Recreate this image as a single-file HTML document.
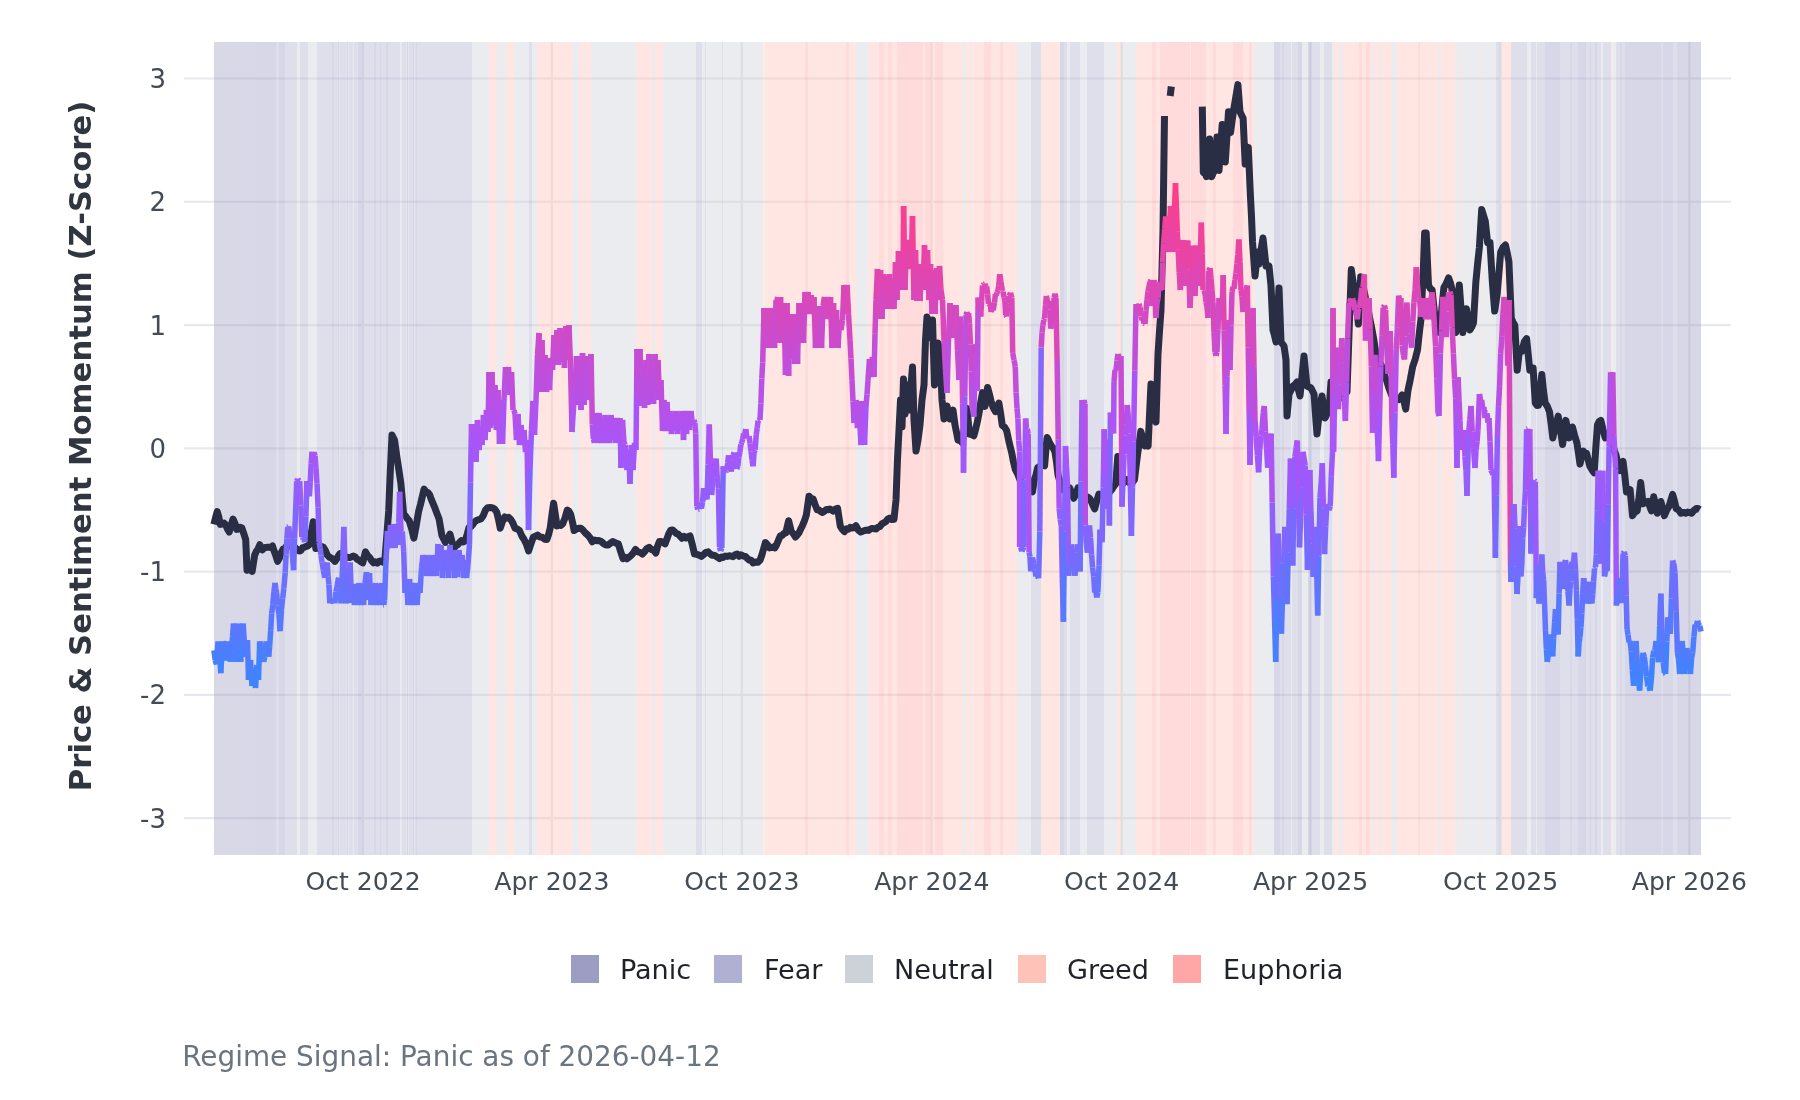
<!DOCTYPE html>
<html><head><meta charset="utf-8"><title>Regime Signal</title>
<style>html,body{margin:0;padding:0;background:#fff;width:1800px;height:1100px;overflow:hidden}svg{display:block;will-change:transform}</style>
</head><body>
<svg width="1800" height="1100" viewBox="0 0 1800 1100">
<rect x="0" y="0" width="1800" height="1100" fill="#ffffff"/>
<line x1="184" x2="1731" y1="78.49" y2="78.49" stroke="#e6e9ed" stroke-width="2.2"/>
<line x1="184" x2="1731" y1="201.76" y2="201.76" stroke="#e6e9ed" stroke-width="2.2"/>
<line x1="184" x2="1731" y1="325.03" y2="325.03" stroke="#e6e9ed" stroke-width="2.2"/>
<line x1="184" x2="1731" y1="448.30" y2="448.30" stroke="#e6e9ed" stroke-width="2.2"/>
<line x1="184" x2="1731" y1="571.57" y2="571.57" stroke="#e6e9ed" stroke-width="2.2"/>
<line x1="184" x2="1731" y1="694.84" y2="694.84" stroke="#e6e9ed" stroke-width="2.2"/>
<line x1="184" x2="1731" y1="818.11" y2="818.11" stroke="#e6e9ed" stroke-width="2.2"/>
<line x1="363.00" x2="363.00" y1="42" y2="855" stroke="#e6e9ed" stroke-width="2.2"/>
<line x1="551.89" x2="551.89" y1="42" y2="855" stroke="#e6e9ed" stroke-width="2.2"/>
<line x1="741.82" x2="741.82" y1="42" y2="855" stroke="#e6e9ed" stroke-width="2.2"/>
<line x1="931.75" x2="931.75" y1="42" y2="855" stroke="#e6e9ed" stroke-width="2.2"/>
<line x1="1121.68" x2="1121.68" y1="42" y2="855" stroke="#e6e9ed" stroke-width="2.2"/>
<line x1="1310.58" x2="1310.58" y1="42" y2="855" stroke="#e6e9ed" stroke-width="2.2"/>
<line x1="1500.51" x2="1500.51" y1="42" y2="855" stroke="#e6e9ed" stroke-width="2.2"/>
<line x1="1689.40" x2="1689.40" y1="42" y2="855" stroke="#e6e9ed" stroke-width="2.2"/>
<g opacity="0.4">
<rect x="214.0" y="42" width="62.00" height="813" fill="#9d9dc4"/>
<rect x="276.0" y="42" width="3.00" height="813" fill="#b0b0d2"/>
<rect x="279.0" y="42" width="6.00" height="813" fill="#9d9dc4"/>
<rect x="285.0" y="42" width="12.00" height="813" fill="#b0b0d2"/>
<rect x="297.0" y="42" width="3.00" height="813" fill="#cdd2d8"/>
<rect x="300.0" y="42" width="8.00" height="813" fill="#b0b0d2"/>
<rect x="308.0" y="42" width="9.00" height="813" fill="#cdd2d8"/>
<rect x="317.0" y="42" width="15.00" height="813" fill="#b0b0d2"/>
<rect x="332.0" y="42" width="2.00" height="813" fill="#9d9dc4"/>
<rect x="334.0" y="42" width="4.00" height="813" fill="#b0b0d2"/>
<rect x="338.0" y="42" width="1.50" height="813" fill="#9d9dc4"/>
<rect x="339.5" y="42" width="7.20" height="813" fill="#b0b0d2"/>
<rect x="346.7" y="42" width="1.70" height="813" fill="#9d9dc4"/>
<rect x="348.4" y="42" width="4.00" height="813" fill="#b0b0d2"/>
<rect x="352.4" y="42" width="1.00" height="813" fill="#9d9dc4"/>
<rect x="353.4" y="42" width="4.40" height="813" fill="#b0b0d2"/>
<rect x="357.8" y="42" width="4.20" height="813" fill="#9d9dc4"/>
<rect x="362.0" y="42" width="11.80" height="813" fill="#b0b0d2"/>
<rect x="373.8" y="42" width="2.20" height="813" fill="#9d9dc4"/>
<rect x="376.0" y="42" width="4.00" height="813" fill="#b0b0d2"/>
<rect x="380.0" y="42" width="1.00" height="813" fill="#9d9dc4"/>
<rect x="381.0" y="42" width="4.30" height="813" fill="#b0b0d2"/>
<rect x="385.3" y="42" width="2.70" height="813" fill="#9d9dc4"/>
<rect x="388.0" y="42" width="12.00" height="813" fill="#b0b0d2"/>
<rect x="400.0" y="42" width="1.30" height="813" fill="#cdd2d8"/>
<rect x="401.3" y="42" width="5.40" height="813" fill="#b0b0d2"/>
<rect x="406.7" y="42" width="1.70" height="813" fill="#9d9dc4"/>
<rect x="408.4" y="42" width="4.60" height="813" fill="#b0b0d2"/>
<rect x="413.0" y="42" width="1.70" height="813" fill="#9d9dc4"/>
<rect x="414.7" y="42" width="1.30" height="813" fill="#b0b0d2"/>
<rect x="416.0" y="42" width="1.00" height="813" fill="#9d9dc4"/>
<rect x="417.0" y="42" width="55.00" height="813" fill="#b0b0d2"/>
<rect x="472.0" y="42" width="17.00" height="813" fill="#cdd2d8"/>
<rect x="489.0" y="42" width="7.00" height="813" fill="#ffc2b8"/>
<rect x="496.0" y="42" width="2.00" height="813" fill="#cdd2d8"/>
<rect x="498.0" y="42" width="1.00" height="813" fill="#ffc2b8"/>
<rect x="499.0" y="42" width="7.00" height="813" fill="#cdd2d8"/>
<rect x="506.0" y="42" width="8.00" height="813" fill="#ffc2b8"/>
<rect x="514.0" y="42" width="15.00" height="813" fill="#cdd2d8"/>
<rect x="529.0" y="42" width="3.00" height="813" fill="#b0b0d2"/>
<rect x="532.0" y="42" width="5.00" height="813" fill="#cdd2d8"/>
<rect x="537.0" y="42" width="35.00" height="813" fill="#ffc2b8"/>
<rect x="572.0" y="42" width="7.00" height="813" fill="#cdd2d8"/>
<rect x="579.0" y="42" width="5.00" height="813" fill="#ffc2b8"/>
<rect x="584.0" y="42" width="1.00" height="813" fill="#cdd2d8"/>
<rect x="585.0" y="42" width="6.00" height="813" fill="#ffc2b8"/>
<rect x="591.0" y="42" width="45.00" height="813" fill="#cdd2d8"/>
<rect x="636.0" y="42" width="16.00" height="813" fill="#ffc2b8"/>
<rect x="652.0" y="42" width="3.00" height="813" fill="#cdd2d8"/>
<rect x="655.0" y="42" width="8.00" height="813" fill="#ffc2b8"/>
<rect x="663.0" y="42" width="33.00" height="813" fill="#cdd2d8"/>
<rect x="696.0" y="42" width="6.00" height="813" fill="#b0b0d2"/>
<rect x="702.0" y="42" width="3.00" height="813" fill="#cdd2d8"/>
<rect x="705.0" y="42" width="1.50" height="813" fill="#b0b0d2"/>
<rect x="706.5" y="42" width="15.50" height="813" fill="#cdd2d8"/>
<rect x="722.0" y="42" width="1.00" height="813" fill="#b0b0d2"/>
<rect x="723.0" y="42" width="39.00" height="813" fill="#cdd2d8"/>
<rect x="762.0" y="42" width="1.50" height="813" fill="#ffc2b8"/>
<rect x="763.5" y="42" width="1.00" height="813" fill="#cdd2d8"/>
<rect x="764.5" y="42" width="40.00" height="813" fill="#ffc2b8"/>
<rect x="804.5" y="42" width="4.00" height="813" fill="#ffa6a6"/>
<rect x="808.5" y="42" width="37.50" height="813" fill="#ffc2b8"/>
<rect x="846.0" y="42" width="3.00" height="813" fill="#ffa6a6"/>
<rect x="849.0" y="42" width="7.00" height="813" fill="#ffc2b8"/>
<rect x="856.0" y="42" width="12.00" height="813" fill="#cdd2d8"/>
<rect x="868.0" y="42" width="11.00" height="813" fill="#ffc2b8"/>
<rect x="879.0" y="42" width="5.00" height="813" fill="#ffa6a6"/>
<rect x="884.0" y="42" width="4.00" height="813" fill="#ffc2b8"/>
<rect x="888.0" y="42" width="4.00" height="813" fill="#ffa6a6"/>
<rect x="892.0" y="42" width="5.00" height="813" fill="#ffc2b8"/>
<rect x="897.0" y="42" width="26.00" height="813" fill="#ffa6a6"/>
<rect x="923.0" y="42" width="1.50" height="813" fill="#ffc2b8"/>
<rect x="924.5" y="42" width="6.50" height="813" fill="#ffa6a6"/>
<rect x="931.0" y="42" width="4.00" height="813" fill="#ffc2b8"/>
<rect x="935.0" y="42" width="8.00" height="813" fill="#ffa6a6"/>
<rect x="943.0" y="42" width="20.00" height="813" fill="#ffc2b8"/>
<rect x="963.0" y="42" width="3.00" height="813" fill="#cdd2d8"/>
<rect x="966.0" y="42" width="5.00" height="813" fill="#ffc2b8"/>
<rect x="971.0" y="42" width="1.50" height="813" fill="#cdd2d8"/>
<rect x="972.5" y="42" width="11.50" height="813" fill="#ffc2b8"/>
<rect x="984.0" y="42" width="7.00" height="813" fill="#ffa6a6"/>
<rect x="991.0" y="42" width="9.00" height="813" fill="#ffc2b8"/>
<rect x="1000.0" y="42" width="3.00" height="813" fill="#ffa6a6"/>
<rect x="1003.0" y="42" width="14.00" height="813" fill="#ffc2b8"/>
<rect x="1017.0" y="42" width="14.00" height="813" fill="#cdd2d8"/>
<rect x="1031.0" y="42" width="10.00" height="813" fill="#b0b0d2"/>
<rect x="1041.0" y="42" width="19.00" height="813" fill="#ffc2b8"/>
<rect x="1060.0" y="42" width="4.00" height="813" fill="#9d9dc4"/>
<rect x="1064.0" y="42" width="3.00" height="813" fill="#b0b0d2"/>
<rect x="1067.0" y="42" width="3.00" height="813" fill="#cdd2d8"/>
<rect x="1070.0" y="42" width="10.00" height="813" fill="#b0b0d2"/>
<rect x="1080.0" y="42" width="7.00" height="813" fill="#cdd2d8"/>
<rect x="1087.0" y="42" width="17.00" height="813" fill="#b0b0d2"/>
<rect x="1104.0" y="42" width="13.00" height="813" fill="#cdd2d8"/>
<rect x="1117.0" y="42" width="4.00" height="813" fill="#ffc2b8"/>
<rect x="1121.0" y="42" width="15.00" height="813" fill="#cdd2d8"/>
<rect x="1136.0" y="42" width="16.00" height="813" fill="#ffc2b8"/>
<rect x="1152.0" y="42" width="4.00" height="813" fill="#ffa6a6"/>
<rect x="1156.0" y="42" width="4.00" height="813" fill="#ffc2b8"/>
<rect x="1160.0" y="42" width="30.00" height="813" fill="#ffa6a6"/>
<rect x="1190.0" y="42" width="1.00" height="813" fill="#ffc2b8"/>
<rect x="1191.0" y="42" width="15.00" height="813" fill="#ffa6a6"/>
<rect x="1206.0" y="42" width="7.00" height="813" fill="#ffc2b8"/>
<rect x="1213.0" y="42" width="3.00" height="813" fill="#ffa6a6"/>
<rect x="1216.0" y="42" width="17.00" height="813" fill="#ffc2b8"/>
<rect x="1233.0" y="42" width="10.00" height="813" fill="#ffa6a6"/>
<rect x="1243.0" y="42" width="5.50" height="813" fill="#ffc2b8"/>
<rect x="1248.5" y="42" width="3.50" height="813" fill="#ffa6a6"/>
<rect x="1252.0" y="42" width="2.00" height="813" fill="#ffc2b8"/>
<rect x="1254.0" y="42" width="20.00" height="813" fill="#cdd2d8"/>
<rect x="1274.0" y="42" width="6.00" height="813" fill="#9d9dc4"/>
<rect x="1280.0" y="42" width="2.00" height="813" fill="#b0b0d2"/>
<rect x="1282.0" y="42" width="2.00" height="813" fill="#9d9dc4"/>
<rect x="1284.0" y="42" width="7.00" height="813" fill="#b0b0d2"/>
<rect x="1291.0" y="42" width="1.00" height="813" fill="#cdd2d8"/>
<rect x="1292.0" y="42" width="6.00" height="813" fill="#b0b0d2"/>
<rect x="1298.0" y="42" width="4.00" height="813" fill="#9d9dc4"/>
<rect x="1302.0" y="42" width="6.00" height="813" fill="#cdd2d8"/>
<rect x="1308.0" y="42" width="3.00" height="813" fill="#9d9dc4"/>
<rect x="1311.0" y="42" width="9.00" height="813" fill="#b0b0d2"/>
<rect x="1320.0" y="42" width="4.00" height="813" fill="#cdd2d8"/>
<rect x="1324.0" y="42" width="8.00" height="813" fill="#b0b0d2"/>
<rect x="1332.0" y="42" width="2.00" height="813" fill="#cdd2d8"/>
<rect x="1334.0" y="42" width="5.00" height="813" fill="#ffc2b8"/>
<rect x="1339.0" y="42" width="4.00" height="813" fill="#cdd2d8"/>
<rect x="1343.0" y="42" width="16.00" height="813" fill="#ffc2b8"/>
<rect x="1359.0" y="42" width="3.00" height="813" fill="#ffa6a6"/>
<rect x="1362.0" y="42" width="4.00" height="813" fill="#ffc2b8"/>
<rect x="1366.0" y="42" width="4.00" height="813" fill="#ffa6a6"/>
<rect x="1370.0" y="42" width="2.00" height="813" fill="#ffc2b8"/>
<rect x="1372.0" y="42" width="2.00" height="813" fill="#cdd2d8"/>
<rect x="1374.0" y="42" width="5.00" height="813" fill="#ffc2b8"/>
<rect x="1379.0" y="42" width="2.00" height="813" fill="#cdd2d8"/>
<rect x="1381.0" y="42" width="11.00" height="813" fill="#ffc2b8"/>
<rect x="1392.0" y="42" width="5.00" height="813" fill="#cdd2d8"/>
<rect x="1397.0" y="42" width="21.00" height="813" fill="#ffc2b8"/>
<rect x="1418.0" y="42" width="2.00" height="813" fill="#ffa6a6"/>
<rect x="1420.0" y="42" width="18.00" height="813" fill="#ffc2b8"/>
<rect x="1438.0" y="42" width="3.00" height="813" fill="#cdd2d8"/>
<rect x="1441.0" y="42" width="12.00" height="813" fill="#ffc2b8"/>
<rect x="1453.0" y="42" width="1.00" height="813" fill="#cdd2d8"/>
<rect x="1454.0" y="42" width="2.00" height="813" fill="#ffc2b8"/>
<rect x="1456.0" y="42" width="4.00" height="813" fill="#cdd2d8"/>
<rect x="1460.0" y="42" width="1.00" height="813" fill="#ffc2b8"/>
<rect x="1461.0" y="42" width="20.00" height="813" fill="#cdd2d8"/>
<rect x="1481.0" y="42" width="1.00" height="813" fill="#ffc2b8"/>
<rect x="1482.0" y="42" width="14.00" height="813" fill="#cdd2d8"/>
<rect x="1496.0" y="42" width="4.00" height="813" fill="#b0b0d2"/>
<rect x="1500.0" y="42" width="2.00" height="813" fill="#cdd2d8"/>
<rect x="1502.0" y="42" width="9.00" height="813" fill="#ffc2b8"/>
<rect x="1511.0" y="42" width="16.00" height="813" fill="#b0b0d2"/>
<rect x="1527.0" y="42" width="4.00" height="813" fill="#cdd2d8"/>
<rect x="1531.0" y="42" width="5.00" height="813" fill="#b0b0d2"/>
<rect x="1536.0" y="42" width="1.00" height="813" fill="#cdd2d8"/>
<rect x="1537.0" y="42" width="8.00" height="813" fill="#b0b0d2"/>
<rect x="1545.0" y="42" width="15.00" height="813" fill="#9d9dc4"/>
<rect x="1560.0" y="42" width="10.00" height="813" fill="#b0b0d2"/>
<rect x="1570.0" y="42" width="2.00" height="813" fill="#9d9dc4"/>
<rect x="1572.0" y="42" width="6.00" height="813" fill="#b0b0d2"/>
<rect x="1578.0" y="42" width="8.00" height="813" fill="#9d9dc4"/>
<rect x="1586.0" y="42" width="4.00" height="813" fill="#b0b0d2"/>
<rect x="1590.0" y="42" width="1.00" height="813" fill="#9d9dc4"/>
<rect x="1591.0" y="42" width="4.00" height="813" fill="#b0b0d2"/>
<rect x="1595.0" y="42" width="2.00" height="813" fill="#9d9dc4"/>
<rect x="1597.0" y="42" width="4.00" height="813" fill="#b0b0d2"/>
<rect x="1601.0" y="42" width="2.00" height="813" fill="#cdd2d8"/>
<rect x="1603.0" y="42" width="8.00" height="813" fill="#b0b0d2"/>
<rect x="1611.0" y="42" width="1.00" height="813" fill="#ffc2b8"/>
<rect x="1612.0" y="42" width="4.00" height="813" fill="#cdd2d8"/>
<rect x="1616.0" y="42" width="4.00" height="813" fill="#b0b0d2"/>
<rect x="1620.0" y="42" width="2.00" height="813" fill="#9d9dc4"/>
<rect x="1622.0" y="42" width="3.00" height="813" fill="#b0b0d2"/>
<rect x="1625.0" y="42" width="36.00" height="813" fill="#9d9dc4"/>
<rect x="1661.0" y="42" width="2.00" height="813" fill="#b0b0d2"/>
<rect x="1663.0" y="42" width="10.00" height="813" fill="#9d9dc4"/>
<rect x="1673.0" y="42" width="4.00" height="813" fill="#b0b0d2"/>
<rect x="1677.0" y="42" width="24.00" height="813" fill="#9d9dc4"/>
</g>
<g fill="none" stroke="#2a2e45" stroke-width="7" stroke-linejoin="round" stroke-linecap="butt">
<polyline points="213.9,524.4 215.6,517.5 217.2,511.6 218.8,517.1 220.3,524.4 222.2,524.1 224.0,523.0 225.7,524.9 227.5,529.1 229.2,532.0 231.1,525.2 233.0,519.0 234.9,523.1 236.8,529.4 238.5,529.0 240.2,527.3 241.9,528.0 243.8,533.6 245.7,539.6 247.0,570.2 248.7,569.5 250.4,569.9 252.1,571.4 254.7,554.9 256.4,551.3 258.1,548.9 259.8,544.7 262.3,549.8 264.0,548.0 265.7,547.4 267.4,547.3 269.1,547.2 270.8,547.6 272.5,546.0 274.2,551.3 275.9,555.9 277.6,561.3 279.5,558.0 281.4,552.3 283.1,549.0 284.8,549.0 286.5,546.0 288.6,545.9 290.8,545.9 292.9,547.3 295.0,547.5 297.1,549.3 299.2,551.0 300.9,550.6 302.6,547.7 304.3,547.3 306.0,546.6 307.7,545.9 309.4,544.7 311.3,532.9 313.2,521.8 315.8,548.5 317.7,548.3 319.6,546.8 321.5,546.5 323.4,547.3 325.3,550.3 327.2,554.9 329.1,557.0 331.0,557.9 333.0,559.2 334.9,561.3 336.6,559.0 338.3,556.0 340.0,553.6 342.5,555.0 345.0,557.4 347.7,557.3 349.5,557.6 351.4,557.0 353.2,556.0 355.0,556.7 356.8,558.9 358.6,560.0 360.6,561.5 362.7,562.8 365.5,551.9 367.6,555.6 369.6,557.3 371.6,560.6 373.6,562.8 375.4,561.8 377.3,563.1 379.1,561.4 380.9,560.9 382.8,562.1 384.6,562.8 386.6,538.2 388.7,510.9 390.0,478.2 392.0,435.0 394.5,440.0 396.7,455.7 398.9,470.0 400.9,483.6 403.7,515.0 405.5,515.9 407.3,518.6 409.1,520.5 411.5,528.2 413.9,538.2 416.3,525.0 418.7,511.0 420.5,504.4 422.3,496.6 424.1,489.1 425.9,491.9 427.8,492.3 429.6,494.6 431.4,499.6 433.2,503.9 435.0,508.2 437.1,513.9 439.1,519.1 441.9,535.5 443.6,538.8 445.3,542.3 447.6,539.1 450.0,534.1 452.1,542.1 454.1,547.8 455.9,545.9 457.8,544.6 459.6,542.3 461.4,540.7 463.3,542.0 465.1,541.0 467.1,534.5 469.1,527.3 470.9,526.7 472.8,524.5 474.6,521.8 476.7,520.3 478.8,519.6 480.9,519.0 483.2,515.7 485.4,510.2 487.7,507.7 490.0,507.6 492.3,507.7 494.6,509.1 496.8,512.3 498.5,519.3 500.2,528.2 502.5,521.4 504.8,516.8 506.7,518.2 508.6,517.3 510.5,519.0 512.8,522.9 515.0,528.2 517.2,529.1 519.5,530.5 521.8,536.0 524.1,539.5 526.4,544.1 528.6,550.9 530.9,544.0 533.2,537.3 535.5,536.3 537.7,535.0 540.0,537.1 542.3,537.3 544.5,539.2 546.8,539.5 548.5,534.8 550.2,528.2 551.9,515.1 553.6,503.2 555.3,514.3 557.0,525.9 558.9,524.8 560.8,525.4 562.7,523.6 565.0,518.0 567.3,510.0 569.0,511.3 570.7,514.5 572.4,521.7 574.1,530.5 576.4,529.0 578.6,528.3 580.9,528.2 583.2,530.4 585.4,533.0 587.7,535.0 590.0,537.8 592.3,541.8 594.6,540.1 596.8,540.7 599.1,540.5 601.4,541.7 603.6,543.7 605.9,545.0 608.2,545.0 610.4,543.2 612.7,541.6 614.6,542.4 616.5,543.4 618.4,543.9 620.7,551.7 623.0,558.6 624.9,557.1 626.7,558.9 628.6,557.5 630.9,555.6 633.2,553.1 635.5,549.5 637.8,551.8 640.0,552.3 642.3,554.1 644.6,551.6 646.8,548.5 649.1,547.3 651.4,549.5 653.6,550.0 655.9,553.0 657.6,546.2 659.3,541.6 661.2,541.6 663.1,542.3 665.0,543.9 666.9,538.9 668.8,533.6 670.7,530.2 672.6,530.0 674.5,531.6 676.4,533.6 678.3,534.1 680.1,536.3 682.0,538.2 684.0,536.4 686.0,538.0 688.0,536.8 690.0,535.9 692.2,544.1 694.5,554.1 696.8,554.2 699.1,555.2 701.4,556.4 703.7,554.5 705.9,552.4 708.2,551.8 710.1,553.8 712.0,555.3 713.9,555.2 715.8,556.2 717.6,557.4 719.5,558.6 721.4,557.0 723.2,557.5 725.2,556.1 727.2,556.4 729.3,555.8 731.3,556.1 733.2,556.7 735.1,554.7 737.1,554.0 739.0,556.2 740.9,554.7 743.2,556.1 745.4,556.5 747.7,558.8 749.5,560.3 751.3,560.3 753.1,562.9 755.4,562.1 757.7,562.3 760.0,560.2 761.8,555.2 763.6,548.9 765.4,542.5 767.5,544.6 769.5,547.9 771.3,547.6 773.1,547.0 774.9,547.9 776.7,544.5 778.6,539.9 780.4,535.7 782.2,535.5 784.0,533.4 785.8,532.9 788.6,520.7 791.3,531.6 793.3,533.6 795.4,537.0 797.2,535.1 799.0,532.9 800.8,528.9 802.6,525.3 804.5,520.6 806.3,515.2 809.0,496.2 811.0,498.4 813.1,498.9 815.2,505.0 817.2,509.8 819.0,510.0 820.8,511.6 822.6,512.5 824.4,511.2 826.3,509.5 828.1,509.8 829.9,509.0 831.7,510.1 833.5,511.1 835.5,509.1 837.6,508.4 840.3,526.1 842.3,529.4 844.4,531.6 846.4,528.8 848.3,529.3 850.2,527.4 852.1,528.0 854.0,527.5 855.9,525.6 858.3,530.0 860.7,532.0 862.7,531.2 864.7,530.5 866.6,530.1 868.6,530.4 870.5,529.0 872.4,528.4 874.3,528.8 876.2,528.9 878.1,527.2 880.0,526.5 881.9,523.9 883.9,522.8 885.8,521.6 887.7,519.2 889.8,518.1 891.9,519.6 894.0,519.2 896.0,500.0 897.5,459.0 899.0,430.0 900.5,400.0 902.0,427.0 903.5,379.0 905.0,414.0 907.0,385.0 909.0,410.0 911.0,385.0 912.5,367.0 914.0,420.0 916.0,451.0 918.0,440.0 920.0,425.0 922.0,400.0 924.0,385.0 925.5,340.0 927.0,317.0 929.0,325.0 931.0,338.0 932.5,320.0 934.5,385.0 936.0,370.0 938.0,343.0 940.0,350.0 942.0,400.0 944.0,419.0 945.5,413.6 947.0,406.0 948.5,413.2 950.0,419.0 951.5,415.2 953.0,410.0 955.0,425.0 956.5,432.4 958.0,440.0 960.2,440.6 962.4,442.9 964.6,426.3 966.9,408.2 969.5,434.1 971.6,434.5 973.8,435.8 975.5,429.7 977.3,422.0 979.0,413.4 980.8,402.1 982.5,392.6 985.0,406.4 987.6,387.4 989.4,394.1 991.1,401.3 993.2,407.6 995.4,411.6 997.1,407.9 998.9,403.0 1000.6,413.3 1002.3,425.4 1004.5,427.0 1006.6,430.6 1009.2,442.7 1011.8,453.1 1013.5,462.0 1015.3,469.4 1017.6,473.8 1020.0,480.0 1022.0,482.7 1024.0,484.1 1026.0,485.0 1028.2,486.3 1030.3,490.4 1032.5,491.8 1034.3,479.7 1036.0,474.9 1037.7,467.6 1039.3,466.7 1041.0,465.0 1042.8,465.1 1044.6,465.9 1046.4,443.5 1047.2,437.5 1049.3,442.0 1051.5,446.2 1053.2,448.1 1055.0,452.0 1056.5,462.2 1058.0,475.0 1059.8,481.2 1061.6,485.4 1063.4,490.0 1065.5,489.4 1067.5,489.7 1069.6,487.9 1071.7,492.9 1073.8,498.3 1075.9,494.1 1078.0,487.9 1080.1,491.5 1082.2,492.7 1084.3,496.2 1086.0,496.3 1087.8,497.1 1089.5,498.3 1091.2,501.1 1093.0,505.5 1094.7,508.8 1096.8,500.8 1098.9,494.1 1101.0,495.3 1103.1,495.9 1105.2,498.3 1107.3,496.6 1109.4,492.4 1111.5,490.0 1113.6,486.7 1115.7,483.7 1117.8,456.5 1119.9,470.3 1122.0,483.7 1124.0,482.7 1126.1,479.5 1128.2,481.4 1130.3,483.7 1132.4,482.7 1134.5,479.5 1136.0,467.0 1137.6,454.4 1139.2,443.0 1140.8,431.4 1142.9,438.8 1145.0,446.0 1146.5,444.7 1148.1,446.0 1150.2,400.0 1151.0,384.0 1153.0,395.0 1154.5,408.3 1156.0,422.0 1158.0,354.0 1159.5,331.2 1161.0,310.0 1163.0,230.0 1164.5,116.0"/>
<polyline points="1171.3,86.5 1170.2,96.0"/>
<polyline points="1202.3,106.6 1203.3,172.5 1204.9,173.3 1206.5,176.7 1208.0,158.6 1209.6,139.0 1211.7,176.7 1213.3,172.7 1214.9,170.4 1217.0,137.0 1219.0,170.4 1220.6,147.3 1222.2,124.4 1223.8,143.8 1225.3,162.0 1226.9,137.0 1228.5,111.8 1230.5,132.8 1232.1,120.8 1233.7,109.7 1235.8,97.2 1237.9,84.6 1240.0,111.8 1241.5,115.1 1243.1,118.1 1245.2,164.1 1246.8,156.5 1248.3,147.4 1250.4,195.5 1251.5,216.4 1252.5,241.5 1255.0,276.0 1257.7,252.0 1259.0,264.0 1261.0,250.0 1263.0,238.0 1264.5,252.2 1266.0,266.0 1267.5,265.3 1269.0,266.0 1271.0,286.0 1273.0,330.0 1274.5,335.4 1276.0,342.0 1277.5,315.7 1279.0,288.0 1281.0,342.0 1282.5,344.0 1284.0,346.0 1286.0,360.0 1287.0,416.0 1289.0,394.0 1291.0,390.2 1293.0,386.0 1295.0,384.7 1297.0,382.0 1298.5,390.1 1300.0,396.0 1302.0,375.9 1304.0,356.0 1305.5,371.3 1307.0,386.0 1309.0,387.0 1311.0,388.0 1312.5,391.0 1314.0,394.0 1315.5,414.5 1317.0,434.0 1318.5,419.9 1320.0,406.0 1322.0,396.0 1323.5,407.1 1325.0,418.0 1327.0,413.9 1329.0,410.0 1331.0,382.0 1332.5,388.1 1334.0,392.0 1336.0,394.5 1338.0,397.0 1340.0,398.0 1341.8,397.6 1343.5,394.4 1345.2,393.7 1347.0,392.0 1349.5,320.0 1351.3,269.6 1353.0,281.5 1354.8,291.0 1356.6,308.4 1358.4,324.0 1360.7,276.7 1363.1,286.4 1365.5,298.0 1367.5,306.5 1369.4,316.8 1371.4,326.4 1373.8,339.5 1376.1,354.8 1378.4,358.8 1380.8,364.2 1382.8,368.6 1384.7,375.7 1386.7,380.8 1389.1,388.6 1391.5,395.0 1393.3,397.2 1395.0,396.5 1396.8,399.1 1398.6,399.7 1400.3,397.8 1402.1,395.0 1403.9,401.1 1405.7,409.1 1408.0,390.2 1410.3,379.4 1412.7,366.6 1415.1,359.5 1417.5,350.0 1419.2,333.9 1421.0,319.3 1423.4,267.3 1424.6,233.0 1426.2,233.1 1428.5,285.1 1430.3,288.6 1432.1,289.8 1433.8,306.1 1435.6,322.9 1437.4,327.6 1439.2,332.4 1441.6,311.2 1443.9,287.5 1446.2,283.6 1448.6,278.0 1450.4,283.0 1452.2,289.8 1454.0,310.9 1455.7,332.4 1457.5,308.8 1459.3,285.1 1461.0,308.3 1462.8,332.4 1464.6,319.8 1466.4,308.7 1468.2,318.9 1469.9,330.0 1471.7,327.0 1473.5,322.9 1475.8,282.7 1477.6,263.8 1479.4,247.3 1481.7,209.5 1483.5,215.5 1485.3,221.3 1487.6,242.6 1490.0,242.6 1492.4,282.7 1494.7,311.1 1497.1,294.6 1498.9,273.1 1500.7,252.0 1503.1,247.2 1505.4,244.9 1507.2,252.8 1508.9,261.5 1511.3,318.2 1513.0,322.1 1514.8,325.3 1517.2,370.2 1519.6,348.9 1521.9,351.3 1524.3,341.8 1526.6,338.6 1528.2,354.4 1529.8,370.2 1531.4,368.0 1533.1,368.0 1535.3,403.0 1536.9,405.4 1538.6,405.2 1540.2,390.6 1541.8,374.6 1543.4,390.0 1545.1,403.0 1547.3,406.3 1549.5,411.7 1551.2,424.2 1552.8,437.9 1554.6,429.4 1556.4,424.1 1558.2,416.1 1560.4,429.7 1562.6,444.5 1564.2,431.5 1565.9,420.4 1567.5,428.9 1569.1,437.9 1570.8,433.5 1572.4,427.0 1574.6,435.5 1576.8,442.3 1578.4,452.6 1580.0,464.1 1581.7,456.6 1583.3,451.0 1584.9,453.2 1586.6,453.2 1588.2,459.9 1589.9,466.3 1592.1,470.1 1594.2,472.8 1595.8,447.7 1597.5,424.8 1599.2,421.4 1600.8,420.4 1603.0,429.6 1605.2,437.9 1607.3,435.5 1609.5,433.5 1611.7,439.7 1613.9,449.2 1616.1,455.4 1617.7,463.4 1619.3,470.7 1621.2,466.8 1623.0,461.3 1624.8,475.6 1626.5,492.0 1628.3,491.7 1630.1,489.6 1632.5,515.7 1634.8,512.2 1637.2,510.9 1639.0,497.7 1640.7,482.6 1643.1,503.8 1645.4,502.5 1647.8,501.5 1649.6,505.8 1651.4,510.9 1653.7,496.7 1655.5,505.1 1657.3,513.3 1659.0,508.5 1660.8,501.5 1662.6,508.0 1664.4,515.7 1666.8,510.0 1669.1,506.2 1670.8,500.4 1672.6,494.4 1674.4,500.8 1676.2,508.6 1678.6,509.9 1680.9,513.3 1683.3,512.4 1685.7,513.3 1687.7,512.1 1689.6,512.5 1691.6,513.3 1693.9,510.5 1696.3,508.6 1698.0,508.6 1699.8,509.7"/>
</g>
<g stroke-width="5.5" stroke-linecap="butt" fill="none">
<line x1="213.9" y1="650.3" x2="215.2" y2="660.2" stroke="#4e7dfe"/>
<line x1="215.2" y1="660.2" x2="216.5" y2="664.3" stroke="#497ffe"/>
<line x1="216.5" y1="664.3" x2="217.3" y2="650.5" stroke="#4780fe"/>
<line x1="217.3" y1="650.5" x2="218.2" y2="641.4" stroke="#4e7dfe"/>
<line x1="218.2" y1="641.4" x2="219.1" y2="652.0" stroke="#527bfe"/>
<line x1="219.1" y1="652.0" x2="219.9" y2="659.1" stroke="#4d7efe"/>
<line x1="219.9" y1="659.1" x2="220.8" y2="673.2" stroke="#4a7ffe"/>
<line x1="220.8" y1="673.2" x2="221.8" y2="655.6" stroke="#4382ff"/>
<line x1="221.8" y1="655.6" x2="222.8" y2="641.4" stroke="#4b7efe"/>
<line x1="222.8" y1="641.4" x2="224.1" y2="645.6" stroke="#527bfe"/>
<line x1="224.1" y1="645.6" x2="225.4" y2="660.5" stroke="#507cfe"/>
<line x1="225.4" y1="660.5" x2="226.7" y2="648.2" stroke="#497ffe"/>
<line x1="226.7" y1="648.2" x2="227.9" y2="641.4" stroke="#4f7dfe"/>
<line x1="227.9" y1="641.4" x2="229.2" y2="646.3" stroke="#527bfe"/>
<line x1="229.2" y1="646.3" x2="230.5" y2="661.8" stroke="#4f7cfe"/>
<line x1="230.5" y1="661.8" x2="231.5" y2="651.6" stroke="#4980fe"/>
<line x1="231.5" y1="651.6" x2="232.5" y2="636.9" stroke="#4d7dfe"/>
<line x1="232.5" y1="636.9" x2="233.5" y2="623.6" stroke="#547bfe"/>
<line x1="233.5" y1="623.6" x2="234.8" y2="639.3" stroke="#5a78fe"/>
<line x1="234.8" y1="639.3" x2="236.1" y2="661.8" stroke="#537bfe"/>
<line x1="236.1" y1="661.8" x2="237.1" y2="642.4" stroke="#4980fe"/>
<line x1="237.1" y1="642.4" x2="238.1" y2="623.6" stroke="#517cfe"/>
<line x1="238.1" y1="623.6" x2="239.4" y2="647.5" stroke="#5a78fe"/>
<line x1="239.4" y1="647.5" x2="240.7" y2="661.8" stroke="#4f7dfe"/>
<line x1="240.7" y1="661.8" x2="241.9" y2="638.4" stroke="#4980fe"/>
<line x1="241.9" y1="638.4" x2="243.2" y2="623.6" stroke="#537bfe"/>
<line x1="243.2" y1="623.6" x2="244.4" y2="643.7" stroke="#5a78fe"/>
<line x1="244.4" y1="643.7" x2="245.7" y2="656.7" stroke="#517cfe"/>
<line x1="245.7" y1="656.7" x2="246.6" y2="647.6" stroke="#4b7efe"/>
<line x1="246.6" y1="647.6" x2="247.5" y2="640.0" stroke="#4f7dfe"/>
<line x1="247.5" y1="640.0" x2="248.5" y2="680.0" stroke="#527bfe"/>
<line x1="248.5" y1="680.0" x2="249.5" y2="669.9" stroke="#4083ff"/>
<line x1="249.5" y1="669.9" x2="250.5" y2="660.0" stroke="#4581ff"/>
<line x1="250.5" y1="660.0" x2="252.0" y2="686.0" stroke="#497ffe"/>
<line x1="252.0" y1="686.0" x2="253.0" y2="680.7" stroke="#3e84ff"/>
<line x1="253.0" y1="680.7" x2="254.0" y2="668.0" stroke="#4083ff"/>
<line x1="254.0" y1="668.0" x2="255.5" y2="688.0" stroke="#4681fe"/>
<line x1="255.5" y1="688.0" x2="257.0" y2="665.0" stroke="#3d85ff"/>
<line x1="257.0" y1="665.0" x2="258.5" y2="680.0" stroke="#4780fe"/>
<line x1="258.5" y1="680.0" x2="259.7" y2="641.4" stroke="#4083ff"/>
<line x1="259.7" y1="641.4" x2="260.7" y2="645.3" stroke="#527bfe"/>
<line x1="260.7" y1="645.3" x2="261.6" y2="651.7" stroke="#507cfe"/>
<line x1="261.6" y1="651.7" x2="262.6" y2="658.8" stroke="#4d7efe"/>
<line x1="262.6" y1="658.8" x2="263.6" y2="661.8" stroke="#4a7ffe"/>
<line x1="263.6" y1="661.8" x2="264.9" y2="656.9" stroke="#4980fe"/>
<line x1="264.9" y1="656.9" x2="266.1" y2="641.4" stroke="#4b7ffe"/>
<line x1="266.1" y1="641.4" x2="267.4" y2="647.3" stroke="#527bfe"/>
<line x1="267.4" y1="647.3" x2="268.7" y2="656.7" stroke="#4f7dfe"/>
<line x1="268.7" y1="656.7" x2="269.7" y2="645.9" stroke="#4b7efe"/>
<line x1="269.7" y1="645.9" x2="270.7" y2="630.1" stroke="#507cfe"/>
<line x1="270.7" y1="630.1" x2="271.7" y2="613.4" stroke="#5779fe"/>
<line x1="271.7" y1="613.4" x2="272.8" y2="604.7" stroke="#5e76fd"/>
<line x1="272.8" y1="604.7" x2="273.9" y2="592.0" stroke="#6274fd"/>
<line x1="273.9" y1="592.0" x2="275.0" y2="582.9" stroke="#6872fd"/>
<line x1="275.0" y1="582.9" x2="275.9" y2="588.9" stroke="#6c70fd"/>
<line x1="275.9" y1="588.9" x2="276.7" y2="593.3" stroke="#6971fd"/>
<line x1="276.7" y1="593.3" x2="277.6" y2="605.8" stroke="#6772fd"/>
<line x1="277.6" y1="605.8" x2="278.9" y2="614.4" stroke="#6274fd"/>
<line x1="278.9" y1="614.4" x2="280.1" y2="631.2" stroke="#5e76fd"/>
<line x1="280.1" y1="631.2" x2="281.4" y2="610.0" stroke="#5679fe"/>
<line x1="281.4" y1="610.0" x2="282.7" y2="598.2" stroke="#6075fd"/>
<line x1="282.7" y1="598.2" x2="283.9" y2="588.1" stroke="#6573fd"/>
<line x1="283.9" y1="588.1" x2="285.2" y2="572.7" stroke="#6971fd"/>
<line x1="285.2" y1="572.7" x2="286.1" y2="554.7" stroke="#706efd"/>
<line x1="286.1" y1="554.7" x2="286.9" y2="538.5" stroke="#786afc"/>
<line x1="286.9" y1="538.5" x2="287.8" y2="526.9" stroke="#8067fc"/>
<line x1="287.8" y1="526.9" x2="288.8" y2="526.2" stroke="#8565fc"/>
<line x1="288.8" y1="526.2" x2="289.7" y2="538.3" stroke="#8565fc"/>
<line x1="289.7" y1="538.3" x2="290.7" y2="542.5" stroke="#8067fc"/>
<line x1="290.7" y1="542.5" x2="291.6" y2="542.2" stroke="#7e68fc"/>
<line x1="291.6" y1="542.2" x2="292.6" y2="558.1" stroke="#7e68fc"/>
<line x1="292.6" y1="558.1" x2="293.6" y2="570.2" stroke="#776bfc"/>
<line x1="293.6" y1="570.2" x2="294.6" y2="538.1" stroke="#716dfc"/>
<line x1="294.6" y1="538.1" x2="295.7" y2="508.0" stroke="#8067fc"/>
<line x1="295.7" y1="508.0" x2="296.7" y2="481.1" stroke="#8d61fb"/>
<line x1="296.7" y1="481.1" x2="297.7" y2="478.8" stroke="#995cfb"/>
<line x1="297.7" y1="478.8" x2="298.7" y2="480.7" stroke="#9a5bfb"/>
<line x1="298.7" y1="480.7" x2="299.7" y2="481.1" stroke="#995cfb"/>
<line x1="299.7" y1="481.1" x2="300.8" y2="505.3" stroke="#995cfb"/>
<line x1="300.8" y1="505.3" x2="301.8" y2="537.1" stroke="#8e60fb"/>
<line x1="301.8" y1="537.1" x2="302.8" y2="538.2" stroke="#8067fc"/>
<line x1="302.8" y1="538.2" x2="303.8" y2="537.9" stroke="#8067fc"/>
<line x1="303.8" y1="537.9" x2="304.8" y2="542.2" stroke="#8067fc"/>
<line x1="304.8" y1="542.2" x2="305.9" y2="516.7" stroke="#7e68fc"/>
<line x1="305.9" y1="516.7" x2="306.9" y2="481.1" stroke="#8963fb"/>
<line x1="306.9" y1="481.1" x2="308.1" y2="493.9" stroke="#995cfb"/>
<line x1="308.1" y1="493.9" x2="309.4" y2="496.4" stroke="#935efb"/>
<line x1="309.4" y1="496.4" x2="310.3" y2="482.1" stroke="#925ffb"/>
<line x1="310.3" y1="482.1" x2="311.1" y2="463.9" stroke="#995cfb"/>
<line x1="311.1" y1="463.9" x2="312.0" y2="451.8" stroke="#a158fa"/>
<line x1="312.0" y1="451.8" x2="313.0" y2="458.2" stroke="#a656fa"/>
<line x1="313.0" y1="458.2" x2="314.0" y2="452.2" stroke="#a357fa"/>
<line x1="314.0" y1="452.2" x2="315.0" y2="455.6" stroke="#a656fa"/>
<line x1="315.0" y1="455.6" x2="316.0" y2="468.0" stroke="#a557fa"/>
<line x1="316.0" y1="468.0" x2="317.0" y2="483.6" stroke="#9f59fa"/>
<line x1="317.0" y1="483.6" x2="318.1" y2="507.4" stroke="#985cfb"/>
<line x1="318.1" y1="507.4" x2="319.1" y2="542.2" stroke="#8d61fb"/>
<line x1="319.1" y1="542.2" x2="320.1" y2="547.7" stroke="#7e68fc"/>
<line x1="320.1" y1="547.7" x2="321.1" y2="555.5" stroke="#7b69fc"/>
<line x1="321.1" y1="555.5" x2="322.1" y2="562.5" stroke="#786afc"/>
<line x1="322.1" y1="562.5" x2="323.4" y2="570.2" stroke="#756cfc"/>
<line x1="323.4" y1="570.2" x2="324.7" y2="577.8" stroke="#716dfc"/>
<line x1="324.7" y1="577.8" x2="325.9" y2="566.9" stroke="#6e6ffd"/>
<line x1="325.9" y1="566.9" x2="327.2" y2="562.5" stroke="#736dfc"/>
<line x1="327.2" y1="562.5" x2="328.1" y2="576.2" stroke="#756cfc"/>
<line x1="328.1" y1="576.2" x2="328.9" y2="584.3" stroke="#6f6efd"/>
<line x1="328.9" y1="584.3" x2="329.8" y2="603.3" stroke="#6b70fd"/>
<line x1="329.8" y1="603.3" x2="330.8" y2="600.7" stroke="#6374fd"/>
<line x1="330.8" y1="600.7" x2="331.8" y2="598.8" stroke="#6473fd"/>
<line x1="331.8" y1="598.8" x2="332.9" y2="602.2" stroke="#6573fd"/>
<line x1="332.9" y1="602.2" x2="333.9" y2="598.3" stroke="#6374fd"/>
<line x1="333.9" y1="598.3" x2="334.9" y2="603.3" stroke="#6573fd"/>
<line x1="334.9" y1="603.3" x2="335.8" y2="591.7" stroke="#6374fd"/>
<line x1="335.8" y1="591.7" x2="336.8" y2="588.4" stroke="#6872fd"/>
<line x1="336.8" y1="588.4" x2="337.8" y2="581.2" stroke="#6971fd"/>
<line x1="337.8" y1="581.2" x2="338.7" y2="577.8" stroke="#6d70fd"/>
<line x1="338.7" y1="577.8" x2="339.9" y2="591.5" stroke="#6e6ffd"/>
<line x1="339.9" y1="591.5" x2="341.2" y2="603.3" stroke="#6872fd"/>
<line x1="341.2" y1="603.3" x2="342.1" y2="578.2" stroke="#6374fd"/>
<line x1="342.1" y1="578.2" x2="342.9" y2="555.1" stroke="#6e6ffd"/>
<line x1="342.9" y1="555.1" x2="343.8" y2="526.9" stroke="#786afc"/>
<line x1="343.8" y1="526.9" x2="345.1" y2="566.8" stroke="#8565fc"/>
<line x1="345.1" y1="566.8" x2="346.3" y2="603.3" stroke="#736dfc"/>
<line x1="346.3" y1="603.3" x2="347.5" y2="570.0" stroke="#6374fd"/>
<line x1="347.5" y1="570.0" x2="349.0" y2="603.0" stroke="#726dfc"/>
<line x1="349.0" y1="603.0" x2="350.2" y2="562.5" stroke="#6374fd"/>
<line x1="350.2" y1="562.5" x2="351.5" y2="603.0" stroke="#756cfc"/>
<line x1="351.5" y1="603.0" x2="353.0" y2="584.0" stroke="#6374fd"/>
<line x1="353.0" y1="584.0" x2="354.5" y2="605.0" stroke="#6b70fd"/>
<line x1="354.5" y1="605.0" x2="356.0" y2="584.0" stroke="#6274fd"/>
<line x1="356.0" y1="584.0" x2="357.5" y2="605.0" stroke="#6b70fd"/>
<line x1="357.5" y1="605.0" x2="359.0" y2="583.0" stroke="#6274fd"/>
<line x1="359.0" y1="583.0" x2="360.5" y2="605.0" stroke="#6c70fd"/>
<line x1="360.5" y1="605.0" x2="362.0" y2="584.0" stroke="#6274fd"/>
<line x1="362.0" y1="584.0" x2="363.5" y2="605.0" stroke="#6b70fd"/>
<line x1="363.5" y1="605.0" x2="365.0" y2="583.0" stroke="#6274fd"/>
<line x1="365.0" y1="583.0" x2="366.5" y2="572.0" stroke="#6c70fd"/>
<line x1="366.5" y1="572.0" x2="368.0" y2="600.0" stroke="#716efd"/>
<line x1="368.0" y1="600.0" x2="369.5" y2="573.0" stroke="#6473fd"/>
<line x1="369.5" y1="573.0" x2="371.0" y2="605.0" stroke="#706efd"/>
<line x1="371.0" y1="605.0" x2="372.5" y2="585.0" stroke="#6274fd"/>
<line x1="372.5" y1="585.0" x2="374.0" y2="605.0" stroke="#6b70fd"/>
<line x1="374.0" y1="605.0" x2="375.5" y2="583.0" stroke="#6274fd"/>
<line x1="375.5" y1="583.0" x2="377.0" y2="605.0" stroke="#6c70fd"/>
<line x1="377.0" y1="605.0" x2="378.5" y2="584.0" stroke="#6274fd"/>
<line x1="378.5" y1="584.0" x2="380.0" y2="605.0" stroke="#6b70fd"/>
<line x1="380.0" y1="605.0" x2="381.5" y2="583.0" stroke="#6274fd"/>
<line x1="381.5" y1="583.0" x2="383.0" y2="605.0" stroke="#6c70fd"/>
<line x1="383.0" y1="605.0" x2="383.8" y2="604.9" stroke="#6274fd"/>
<line x1="383.8" y1="604.9" x2="384.6" y2="600.0" stroke="#6274fd"/>
<line x1="384.6" y1="600.0" x2="386.0" y2="560.0" stroke="#6473fd"/>
<line x1="386.0" y1="560.0" x2="387.5" y2="531.0" stroke="#766bfc"/>
<line x1="387.5" y1="531.0" x2="389.0" y2="548.0" stroke="#8366fc"/>
<line x1="389.0" y1="548.0" x2="390.5" y2="525.0" stroke="#7b69fc"/>
<line x1="390.5" y1="525.0" x2="392.0" y2="548.0" stroke="#8664fc"/>
<line x1="392.0" y1="548.0" x2="393.5" y2="524.0" stroke="#7b69fc"/>
<line x1="393.5" y1="524.0" x2="395.0" y2="548.0" stroke="#8664fc"/>
<line x1="395.0" y1="548.0" x2="396.5" y2="527.0" stroke="#7b69fc"/>
<line x1="396.5" y1="527.0" x2="398.0" y2="545.0" stroke="#8565fc"/>
<line x1="398.0" y1="545.0" x2="398.8" y2="522.6" stroke="#7d68fc"/>
<line x1="398.8" y1="522.6" x2="399.6" y2="491.8" stroke="#8764fc"/>
<line x1="399.6" y1="491.8" x2="401.0" y2="531.0" stroke="#945efb"/>
<line x1="401.0" y1="531.0" x2="402.3" y2="531.4" stroke="#8366fc"/>
<line x1="402.3" y1="531.4" x2="403.7" y2="551.9" stroke="#8366fc"/>
<line x1="403.7" y1="551.9" x2="405.0" y2="592.8" stroke="#7a6afc"/>
<line x1="405.0" y1="592.8" x2="406.5" y2="580.0" stroke="#6772fd"/>
<line x1="406.5" y1="580.0" x2="408.0" y2="605.0" stroke="#6d6ffd"/>
<line x1="408.0" y1="605.0" x2="409.5" y2="579.0" stroke="#6274fd"/>
<line x1="409.5" y1="579.0" x2="411.0" y2="605.0" stroke="#6e6ffd"/>
<line x1="411.0" y1="605.0" x2="412.5" y2="583.0" stroke="#6274fd"/>
<line x1="412.5" y1="583.0" x2="414.0" y2="605.0" stroke="#6c70fd"/>
<line x1="414.0" y1="605.0" x2="415.5" y2="583.0" stroke="#6274fd"/>
<line x1="415.5" y1="583.0" x2="417.0" y2="605.0" stroke="#6c70fd"/>
<line x1="417.0" y1="605.0" x2="418.5" y2="585.0" stroke="#6274fd"/>
<line x1="418.5" y1="585.0" x2="420.0" y2="592.8" stroke="#6b70fd"/>
<line x1="420.0" y1="592.8" x2="421.5" y2="568.0" stroke="#6772fd"/>
<line x1="421.5" y1="568.0" x2="423.0" y2="555.0" stroke="#726dfc"/>
<line x1="423.0" y1="555.0" x2="424.5" y2="576.0" stroke="#786afc"/>
<line x1="424.5" y1="576.0" x2="426.0" y2="555.0" stroke="#6f6efd"/>
<line x1="426.0" y1="555.0" x2="427.5" y2="576.0" stroke="#786afc"/>
<line x1="427.5" y1="576.0" x2="429.0" y2="558.0" stroke="#6f6efd"/>
<line x1="429.0" y1="558.0" x2="430.5" y2="576.0" stroke="#776bfc"/>
<line x1="430.5" y1="576.0" x2="432.0" y2="555.0" stroke="#6f6efd"/>
<line x1="432.0" y1="555.0" x2="433.5" y2="576.0" stroke="#786afc"/>
<line x1="433.5" y1="576.0" x2="435.0" y2="556.0" stroke="#6f6efd"/>
<line x1="435.0" y1="556.0" x2="436.5" y2="576.0" stroke="#786afc"/>
<line x1="436.5" y1="576.0" x2="438.0" y2="544.0" stroke="#6f6efd"/>
<line x1="438.0" y1="544.0" x2="439.5" y2="571.0" stroke="#7d68fc"/>
<line x1="439.5" y1="571.0" x2="441.0" y2="545.0" stroke="#716dfc"/>
<line x1="441.0" y1="545.0" x2="442.5" y2="578.0" stroke="#7d68fc"/>
<line x1="442.5" y1="578.0" x2="444.0" y2="550.0" stroke="#6e6ffd"/>
<line x1="444.0" y1="550.0" x2="445.5" y2="571.0" stroke="#7a69fc"/>
<line x1="445.5" y1="571.0" x2="447.0" y2="552.0" stroke="#716dfc"/>
<line x1="447.0" y1="552.0" x2="448.5" y2="578.0" stroke="#7a6afc"/>
<line x1="448.5" y1="578.0" x2="450.0" y2="545.0" stroke="#6e6ffd"/>
<line x1="450.0" y1="545.0" x2="451.5" y2="570.0" stroke="#7d68fc"/>
<line x1="451.5" y1="570.0" x2="453.0" y2="550.0" stroke="#726dfc"/>
<line x1="453.0" y1="550.0" x2="454.5" y2="578.0" stroke="#7a69fc"/>
<line x1="454.5" y1="578.0" x2="456.0" y2="555.0" stroke="#6e6ffd"/>
<line x1="456.0" y1="555.0" x2="457.5" y2="577.0" stroke="#786afc"/>
<line x1="457.5" y1="577.0" x2="459.0" y2="550.0" stroke="#6e6ffd"/>
<line x1="459.0" y1="550.0" x2="460.5" y2="570.0" stroke="#7a69fc"/>
<line x1="460.5" y1="570.0" x2="462.0" y2="555.0" stroke="#726dfc"/>
<line x1="462.0" y1="555.0" x2="463.5" y2="578.0" stroke="#786afc"/>
<line x1="463.5" y1="578.0" x2="465.0" y2="560.0" stroke="#6e6ffd"/>
<line x1="465.0" y1="560.0" x2="466.5" y2="578.0" stroke="#766bfc"/>
<line x1="466.5" y1="578.0" x2="468.0" y2="565.0" stroke="#6e6ffd"/>
<line x1="468.0" y1="565.0" x2="469.5" y2="544.0" stroke="#746cfc"/>
<line x1="469.5" y1="544.0" x2="470.5" y2="482.8" stroke="#7d68fc"/>
<line x1="470.5" y1="482.8" x2="471.5" y2="424.0" stroke="#985cfb"/>
<line x1="471.5" y1="424.0" x2="473.0" y2="462.0" stroke="#b053f0"/>
<line x1="473.0" y1="462.0" x2="474.5" y2="424.0" stroke="#a258fa"/>
<line x1="474.5" y1="424.0" x2="476.0" y2="462.0" stroke="#b053f0"/>
<line x1="476.0" y1="462.0" x2="477.5" y2="420.0" stroke="#a258fa"/>
<line x1="477.5" y1="420.0" x2="479.0" y2="450.0" stroke="#b153ee"/>
<line x1="479.0" y1="450.0" x2="480.5" y2="428.0" stroke="#a755fa"/>
<line x1="480.5" y1="428.0" x2="482.0" y2="445.0" stroke="#af53f2"/>
<line x1="482.0" y1="445.0" x2="483.5" y2="415.0" stroke="#a955f9"/>
<line x1="483.5" y1="415.0" x2="485.0" y2="440.0" stroke="#b352ec"/>
<line x1="485.0" y1="440.0" x2="486.5" y2="410.0" stroke="#ab54f7"/>
<line x1="486.5" y1="410.0" x2="488.0" y2="432.0" stroke="#b452ea"/>
<line x1="488.0" y1="432.0" x2="489.0" y2="372.0" stroke="#ad54f3"/>
<line x1="489.0" y1="372.0" x2="490.5" y2="428.0" stroke="#c14eda"/>
<line x1="490.5" y1="428.0" x2="492.0" y2="372.0" stroke="#af53f2"/>
<line x1="492.0" y1="372.0" x2="493.5" y2="425.0" stroke="#c14eda"/>
<line x1="493.5" y1="425.0" x2="495.0" y2="385.0" stroke="#af53f0"/>
<line x1="495.0" y1="385.0" x2="496.5" y2="430.0" stroke="#bd50e0"/>
<line x1="496.5" y1="430.0" x2="498.0" y2="390.0" stroke="#ae53f2"/>
<line x1="498.0" y1="390.0" x2="499.5" y2="444.0" stroke="#bb50e2"/>
<line x1="499.5" y1="444.0" x2="501.0" y2="400.0" stroke="#a955f8"/>
<line x1="501.0" y1="400.0" x2="502.5" y2="444.0" stroke="#b851e6"/>
<line x1="502.5" y1="444.0" x2="504.0" y2="400.0" stroke="#a955f8"/>
<line x1="504.0" y1="400.0" x2="505.5" y2="367.0" stroke="#b851e6"/>
<line x1="505.5" y1="367.0" x2="507.0" y2="380.0" stroke="#c24ed8"/>
<line x1="507.0" y1="380.0" x2="508.5" y2="367.0" stroke="#be4fdd"/>
<line x1="508.5" y1="367.0" x2="510.0" y2="395.0" stroke="#c24ed8"/>
<line x1="510.0" y1="395.0" x2="511.5" y2="372.0" stroke="#b950e4"/>
<line x1="511.5" y1="372.0" x2="513.0" y2="410.0" stroke="#c14eda"/>
<line x1="513.0" y1="410.0" x2="514.0" y2="410.1" stroke="#b452ea"/>
<line x1="514.0" y1="410.1" x2="515.0" y2="414.0" stroke="#b452ea"/>
<line x1="515.0" y1="414.0" x2="516.5" y2="440.0" stroke="#b352ec"/>
<line x1="516.5" y1="440.0" x2="518.0" y2="414.0" stroke="#ab54f7"/>
<line x1="518.0" y1="414.0" x2="519.5" y2="445.0" stroke="#b352ec"/>
<line x1="519.5" y1="445.0" x2="521.0" y2="425.0" stroke="#a955f9"/>
<line x1="521.0" y1="425.0" x2="522.5" y2="445.0" stroke="#af53f0"/>
<line x1="522.5" y1="445.0" x2="524.0" y2="430.0" stroke="#a955f9"/>
<line x1="524.0" y1="430.0" x2="525.5" y2="452.0" stroke="#ae53f2"/>
<line x1="525.5" y1="452.0" x2="527.0" y2="440.0" stroke="#a656fa"/>
<line x1="527.0" y1="440.0" x2="528.5" y2="530.0" stroke="#ab54f7"/>
<line x1="528.5" y1="530.0" x2="530.0" y2="470.0" stroke="#8365fc"/>
<line x1="530.0" y1="470.0" x2="531.5" y2="430.0" stroke="#9e59fa"/>
<line x1="531.5" y1="430.0" x2="533.0" y2="401.0" stroke="#ae53f2"/>
<line x1="533.0" y1="401.0" x2="534.5" y2="435.0" stroke="#b751e6"/>
<line x1="534.5" y1="435.0" x2="536.0" y2="400.0" stroke="#ac54f5"/>
<line x1="536.0" y1="400.0" x2="537.5" y2="355.0" stroke="#b851e6"/>
<line x1="537.5" y1="355.0" x2="539.0" y2="333.0" stroke="#c64dd3"/>
<line x1="539.0" y1="333.0" x2="540.5" y2="392.0" stroke="#ce4bca"/>
<line x1="540.5" y1="392.0" x2="542.0" y2="340.0" stroke="#ba50e2"/>
<line x1="542.0" y1="340.0" x2="543.5" y2="392.0" stroke="#cb4ccd"/>
<line x1="543.5" y1="392.0" x2="545.0" y2="355.0" stroke="#ba50e2"/>
<line x1="545.0" y1="355.0" x2="546.5" y2="392.0" stroke="#c64dd3"/>
<line x1="546.5" y1="392.0" x2="548.0" y2="360.0" stroke="#ba50e2"/>
<line x1="548.0" y1="360.0" x2="549.5" y2="390.0" stroke="#c54dd5"/>
<line x1="549.5" y1="390.0" x2="551.0" y2="358.0" stroke="#bb50e2"/>
<line x1="551.0" y1="358.0" x2="552.5" y2="370.0" stroke="#c54dd4"/>
<line x1="552.5" y1="370.0" x2="554.0" y2="335.0" stroke="#c14ed9"/>
<line x1="554.0" y1="335.0" x2="555.5" y2="365.0" stroke="#cd4bcb"/>
<line x1="555.5" y1="365.0" x2="557.0" y2="330.0" stroke="#c34ed7"/>
<line x1="557.0" y1="330.0" x2="558.5" y2="365.0" stroke="#cf4bc8"/>
<line x1="558.5" y1="365.0" x2="560.0" y2="328.0" stroke="#c34ed7"/>
<line x1="560.0" y1="328.0" x2="561.5" y2="362.0" stroke="#cf4bc8"/>
<line x1="561.5" y1="362.0" x2="563.0" y2="330.0" stroke="#c44ed6"/>
<line x1="563.0" y1="330.0" x2="564.5" y2="368.0" stroke="#cf4bc8"/>
<line x1="564.5" y1="368.0" x2="566.0" y2="326.0" stroke="#c24ed8"/>
<line x1="566.0" y1="326.0" x2="567.5" y2="360.0" stroke="#d04ac7"/>
<line x1="567.5" y1="360.0" x2="569.0" y2="325.0" stroke="#c54dd5"/>
<line x1="569.0" y1="325.0" x2="570.5" y2="365.0" stroke="#d04ac6"/>
<line x1="570.5" y1="365.0" x2="572.0" y2="432.0" stroke="#c34ed7"/>
<line x1="572.0" y1="432.0" x2="573.5" y2="408.0" stroke="#ad54f3"/>
<line x1="573.5" y1="408.0" x2="575.0" y2="390.0" stroke="#b552e9"/>
<line x1="575.0" y1="390.0" x2="576.5" y2="356.0" stroke="#bb50e2"/>
<line x1="576.5" y1="356.0" x2="578.0" y2="405.0" stroke="#c64dd3"/>
<line x1="578.0" y1="405.0" x2="579.5" y2="356.0" stroke="#b651e8"/>
<line x1="579.5" y1="356.0" x2="581.0" y2="410.0" stroke="#c64dd3"/>
<line x1="581.0" y1="410.0" x2="582.5" y2="353.0" stroke="#b452ea"/>
<line x1="582.5" y1="353.0" x2="584.0" y2="405.0" stroke="#c74dd2"/>
<line x1="584.0" y1="405.0" x2="585.5" y2="356.0" stroke="#b651e8"/>
<line x1="585.5" y1="356.0" x2="587.0" y2="400.0" stroke="#c64dd3"/>
<line x1="587.0" y1="400.0" x2="588.5" y2="356.0" stroke="#b851e6"/>
<line x1="588.5" y1="356.0" x2="590.0" y2="362.0" stroke="#c64dd3"/>
<line x1="590.0" y1="362.0" x2="591.1" y2="354.1" stroke="#c44ed6"/>
<line x1="591.1" y1="354.1" x2="592.3" y2="424.5" stroke="#c74dd3"/>
<line x1="592.3" y1="424.5" x2="593.4" y2="438.9" stroke="#b053f0"/>
<line x1="593.4" y1="438.9" x2="594.5" y2="442.7" stroke="#ab54f6"/>
<line x1="594.5" y1="442.7" x2="596.0" y2="413.0" stroke="#aa55f8"/>
<line x1="596.0" y1="413.0" x2="597.5" y2="443.0" stroke="#b352eb"/>
<line x1="597.5" y1="443.0" x2="599.0" y2="413.0" stroke="#aa55f8"/>
<line x1="599.0" y1="413.0" x2="600.5" y2="443.0" stroke="#b352eb"/>
<line x1="600.5" y1="443.0" x2="602.0" y2="418.0" stroke="#aa55f8"/>
<line x1="602.0" y1="418.0" x2="603.5" y2="443.0" stroke="#b252ed"/>
<line x1="603.5" y1="443.0" x2="605.0" y2="415.0" stroke="#aa55f8"/>
<line x1="605.0" y1="415.0" x2="606.5" y2="443.0" stroke="#b352ec"/>
<line x1="606.5" y1="443.0" x2="608.0" y2="418.0" stroke="#aa55f8"/>
<line x1="608.0" y1="418.0" x2="609.5" y2="443.0" stroke="#b252ed"/>
<line x1="609.5" y1="443.0" x2="611.0" y2="415.0" stroke="#aa55f8"/>
<line x1="611.0" y1="415.0" x2="612.5" y2="440.0" stroke="#b352ec"/>
<line x1="612.5" y1="440.0" x2="614.0" y2="418.0" stroke="#ab54f7"/>
<line x1="614.0" y1="418.0" x2="615.5" y2="443.0" stroke="#b252ed"/>
<line x1="615.5" y1="443.0" x2="617.0" y2="418.0" stroke="#aa55f8"/>
<line x1="617.0" y1="418.0" x2="618.5" y2="440.0" stroke="#b252ed"/>
<line x1="618.5" y1="440.0" x2="620.0" y2="418.0" stroke="#ab54f7"/>
<line x1="620.0" y1="418.0" x2="621.0" y2="468.0" stroke="#b252ed"/>
<line x1="621.0" y1="468.0" x2="622.5" y2="420.0" stroke="#9f59fa"/>
<line x1="622.5" y1="420.0" x2="624.0" y2="443.0" stroke="#b153ee"/>
<line x1="624.0" y1="443.0" x2="625.5" y2="445.0" stroke="#aa55f8"/>
<line x1="625.5" y1="445.0" x2="627.0" y2="470.0" stroke="#a955f9"/>
<line x1="627.0" y1="470.0" x2="628.5" y2="450.0" stroke="#9e59fa"/>
<line x1="628.5" y1="450.0" x2="630.0" y2="484.0" stroke="#a755fa"/>
<line x1="630.0" y1="484.0" x2="631.5" y2="445.0" stroke="#985cfb"/>
<line x1="631.5" y1="445.0" x2="633.0" y2="470.0" stroke="#a955f9"/>
<line x1="633.0" y1="470.0" x2="634.5" y2="443.0" stroke="#9e59fa"/>
<line x1="634.5" y1="443.0" x2="636.0" y2="450.0" stroke="#aa55f8"/>
<line x1="636.0" y1="450.0" x2="637.0" y2="349.0" stroke="#a755fa"/>
<line x1="637.0" y1="349.0" x2="638.5" y2="400.0" stroke="#c84cd0"/>
<line x1="638.5" y1="400.0" x2="640.0" y2="349.0" stroke="#b851e6"/>
<line x1="640.0" y1="349.0" x2="641.5" y2="406.0" stroke="#c84cd0"/>
<line x1="641.5" y1="406.0" x2="643.0" y2="365.0" stroke="#b651e8"/>
<line x1="643.0" y1="365.0" x2="644.5" y2="408.0" stroke="#c34ed7"/>
<line x1="644.5" y1="408.0" x2="646.0" y2="360.0" stroke="#b552e9"/>
<line x1="646.0" y1="360.0" x2="647.5" y2="405.0" stroke="#c54dd5"/>
<line x1="647.5" y1="405.0" x2="649.0" y2="354.0" stroke="#b651e8"/>
<line x1="649.0" y1="354.0" x2="650.5" y2="404.0" stroke="#c74dd3"/>
<line x1="650.5" y1="404.0" x2="652.0" y2="360.0" stroke="#b651e8"/>
<line x1="652.0" y1="360.0" x2="653.5" y2="404.0" stroke="#c54dd5"/>
<line x1="653.5" y1="404.0" x2="655.0" y2="354.0" stroke="#b651e8"/>
<line x1="655.0" y1="354.0" x2="656.5" y2="400.0" stroke="#c74dd3"/>
<line x1="656.5" y1="400.0" x2="658.0" y2="360.0" stroke="#b851e6"/>
<line x1="658.0" y1="360.0" x2="659.5" y2="400.0" stroke="#c54dd5"/>
<line x1="659.5" y1="400.0" x2="661.0" y2="380.0" stroke="#b851e6"/>
<line x1="661.0" y1="380.0" x2="662.5" y2="431.0" stroke="#be4fdd"/>
<line x1="662.5" y1="431.0" x2="664.0" y2="400.0" stroke="#ae54f3"/>
<line x1="664.0" y1="400.0" x2="665.5" y2="431.0" stroke="#b851e6"/>
<line x1="665.5" y1="431.0" x2="667.0" y2="402.0" stroke="#ae54f3"/>
<line x1="667.0" y1="402.0" x2="668.5" y2="431.0" stroke="#b751e7"/>
<line x1="668.5" y1="431.0" x2="670.0" y2="411.0" stroke="#ae54f3"/>
<line x1="670.0" y1="411.0" x2="671.5" y2="434.0" stroke="#b452ea"/>
<line x1="671.5" y1="434.0" x2="673.0" y2="415.0" stroke="#ad54f4"/>
<line x1="673.0" y1="415.0" x2="674.5" y2="431.0" stroke="#b352ec"/>
<line x1="674.5" y1="431.0" x2="676.0" y2="411.0" stroke="#ae54f3"/>
<line x1="676.0" y1="411.0" x2="677.5" y2="434.0" stroke="#b452ea"/>
<line x1="677.5" y1="434.0" x2="679.0" y2="413.0" stroke="#ad54f4"/>
<line x1="679.0" y1="413.0" x2="680.5" y2="431.0" stroke="#b352eb"/>
<line x1="680.5" y1="431.0" x2="682.0" y2="411.0" stroke="#ae54f3"/>
<line x1="682.0" y1="411.0" x2="683.5" y2="440.0" stroke="#b452ea"/>
<line x1="683.5" y1="440.0" x2="685.0" y2="411.0" stroke="#ab54f7"/>
<line x1="685.0" y1="411.0" x2="686.5" y2="434.0" stroke="#b452ea"/>
<line x1="686.5" y1="434.0" x2="688.0" y2="411.0" stroke="#ad54f4"/>
<line x1="688.0" y1="411.0" x2="689.5" y2="430.0" stroke="#b452ea"/>
<line x1="689.5" y1="430.0" x2="691.0" y2="411.0" stroke="#ae53f2"/>
<line x1="691.0" y1="411.0" x2="692.5" y2="425.0" stroke="#b452ea"/>
<line x1="692.5" y1="425.0" x2="694.0" y2="420.0" stroke="#af53f0"/>
<line x1="694.0" y1="420.0" x2="694.9" y2="422.9" stroke="#b153ee"/>
<line x1="694.9" y1="422.9" x2="695.7" y2="433.6" stroke="#b053f0"/>
<line x1="695.7" y1="433.6" x2="696.8" y2="506.4" stroke="#ad54f4"/>
<line x1="696.8" y1="506.4" x2="697.9" y2="509.4" stroke="#8e61fb"/>
<line x1="697.9" y1="509.4" x2="699.1" y2="509.1" stroke="#8d61fb"/>
<line x1="699.1" y1="509.1" x2="700.2" y2="503.0" stroke="#8d61fb"/>
<line x1="700.2" y1="503.0" x2="701.4" y2="508.6" stroke="#8f60fb"/>
<line x1="701.4" y1="508.6" x2="702.5" y2="502.1" stroke="#8d61fb"/>
<line x1="702.5" y1="502.1" x2="703.6" y2="488.2" stroke="#9060fb"/>
<line x1="703.6" y1="488.2" x2="704.7" y2="496.3" stroke="#965dfb"/>
<line x1="704.7" y1="496.3" x2="705.9" y2="497.1" stroke="#925ffb"/>
<line x1="705.9" y1="497.1" x2="707.0" y2="499.5" stroke="#925ffb"/>
<line x1="707.0" y1="499.5" x2="708.1" y2="464.6" stroke="#915ffb"/>
<line x1="708.1" y1="464.6" x2="709.3" y2="424.5" stroke="#a158fa"/>
<line x1="709.3" y1="424.5" x2="710.5" y2="463.2" stroke="#b053f0"/>
<line x1="710.5" y1="463.2" x2="711.6" y2="495.0" stroke="#a158fa"/>
<line x1="711.6" y1="495.0" x2="712.7" y2="481.9" stroke="#935efb"/>
<line x1="712.7" y1="481.9" x2="713.9" y2="477.1" stroke="#995cfb"/>
<line x1="713.9" y1="477.1" x2="715.0" y2="467.7" stroke="#9b5bfb"/>
<line x1="715.0" y1="467.7" x2="716.1" y2="458.6" stroke="#9f59fa"/>
<line x1="716.1" y1="458.6" x2="717.2" y2="477.1" stroke="#a357fa"/>
<line x1="717.2" y1="477.1" x2="718.4" y2="488.2" stroke="#9b5bfb"/>
<line x1="718.4" y1="488.2" x2="719.5" y2="547.3" stroke="#965dfb"/>
<line x1="719.5" y1="547.3" x2="720.6" y2="551.0" stroke="#7c69fc"/>
<line x1="720.6" y1="551.0" x2="721.8" y2="547.9" stroke="#7a69fc"/>
<line x1="721.8" y1="547.9" x2="723.2" y2="466.2" stroke="#7b69fc"/>
<line x1="723.2" y1="466.2" x2="724.1" y2="471.6" stroke="#a059fa"/>
<line x1="724.1" y1="471.6" x2="725.0" y2="470.7" stroke="#9d5afa"/>
<line x1="725.0" y1="470.7" x2="725.9" y2="471.6" stroke="#9e5afa"/>
<line x1="725.9" y1="471.6" x2="726.8" y2="470.5" stroke="#9d5afa"/>
<line x1="726.8" y1="470.5" x2="727.7" y2="462.7" stroke="#9e59fa"/>
<line x1="727.7" y1="462.7" x2="728.6" y2="455.3" stroke="#a158fa"/>
<line x1="728.6" y1="455.3" x2="729.5" y2="462.9" stroke="#a556fa"/>
<line x1="729.5" y1="462.9" x2="730.4" y2="463.2" stroke="#a158fa"/>
<line x1="730.4" y1="463.2" x2="731.3" y2="471.6" stroke="#a158fa"/>
<line x1="731.3" y1="471.6" x2="732.2" y2="460.1" stroke="#9d5afa"/>
<line x1="732.2" y1="460.1" x2="733.2" y2="454.9" stroke="#a357fa"/>
<line x1="733.2" y1="454.9" x2="734.1" y2="452.6" stroke="#a556fa"/>
<line x1="734.1" y1="452.6" x2="735.0" y2="456.5" stroke="#a656fa"/>
<line x1="735.0" y1="456.5" x2="735.9" y2="459.1" stroke="#a457fa"/>
<line x1="735.9" y1="459.1" x2="736.8" y2="468.9" stroke="#a357fa"/>
<line x1="736.8" y1="468.9" x2="737.8" y2="466.5" stroke="#9f59fa"/>
<line x1="737.8" y1="466.5" x2="738.8" y2="457.3" stroke="#a059fa"/>
<line x1="738.8" y1="457.3" x2="739.9" y2="451.9" stroke="#a457fa"/>
<line x1="739.9" y1="451.9" x2="740.9" y2="444.4" stroke="#a656fa"/>
<line x1="740.9" y1="444.4" x2="741.8" y2="442.2" stroke="#a955f9"/>
<line x1="741.8" y1="442.2" x2="742.7" y2="439.1" stroke="#aa55f8"/>
<line x1="742.7" y1="439.1" x2="743.6" y2="433.5" stroke="#ab54f6"/>
<line x1="743.6" y1="433.5" x2="744.7" y2="433.9" stroke="#ad54f4"/>
<line x1="744.7" y1="433.9" x2="745.8" y2="429.1" stroke="#ad54f4"/>
<line x1="745.8" y1="429.1" x2="746.9" y2="438.4" stroke="#ae53f2"/>
<line x1="746.9" y1="438.4" x2="748.0" y2="438.4" stroke="#ab54f6"/>
<line x1="748.0" y1="438.4" x2="749.1" y2="436.2" stroke="#ab54f6"/>
<line x1="749.1" y1="436.2" x2="750.1" y2="443.7" stroke="#ac54f5"/>
<line x1="750.1" y1="443.7" x2="751.1" y2="451.6" stroke="#a955f8"/>
<line x1="751.1" y1="451.6" x2="752.1" y2="460.5" stroke="#a656fa"/>
<line x1="752.1" y1="460.5" x2="753.1" y2="466.2" stroke="#a257fa"/>
<line x1="753.1" y1="466.2" x2="754.1" y2="451.9" stroke="#a059fa"/>
<line x1="754.1" y1="451.9" x2="755.2" y2="449.7" stroke="#a656fa"/>
<line x1="755.2" y1="449.7" x2="756.2" y2="434.8" stroke="#a755fa"/>
<line x1="756.2" y1="434.8" x2="757.2" y2="428.0" stroke="#ac54f4"/>
<line x1="757.2" y1="428.0" x2="758.1" y2="420.6" stroke="#af53f2"/>
<line x1="758.1" y1="420.6" x2="759.1" y2="420.0" stroke="#b153ef"/>
<line x1="759.1" y1="420.0" x2="760.0" y2="419.9" stroke="#b153ee"/>
<line x1="760.0" y1="419.9" x2="760.9" y2="403.3" stroke="#b153ee"/>
<line x1="760.9" y1="403.3" x2="761.8" y2="378.5" stroke="#b751e7"/>
<line x1="761.8" y1="378.5" x2="762.7" y2="362.6" stroke="#bf4fdd"/>
<line x1="762.7" y1="362.6" x2="764.0" y2="308.0" stroke="#c44ed6"/>
<line x1="764.0" y1="308.0" x2="765.5" y2="348.0" stroke="#d649bf"/>
<line x1="765.5" y1="348.0" x2="767.0" y2="308.0" stroke="#c94cd0"/>
<line x1="767.0" y1="308.0" x2="768.5" y2="348.0" stroke="#d649bf"/>
<line x1="768.5" y1="348.0" x2="770.0" y2="308.0" stroke="#c94cd0"/>
<line x1="770.0" y1="308.0" x2="771.5" y2="348.0" stroke="#d649bf"/>
<line x1="771.5" y1="348.0" x2="773.0" y2="308.0" stroke="#c94cd0"/>
<line x1="773.0" y1="308.0" x2="774.5" y2="348.0" stroke="#d649bf"/>
<line x1="774.5" y1="348.0" x2="776.0" y2="300.0" stroke="#c94cd0"/>
<line x1="776.0" y1="300.0" x2="776.9" y2="301.1" stroke="#d848bc"/>
<line x1="776.9" y1="301.1" x2="777.7" y2="297.0" stroke="#d848bc"/>
<line x1="777.7" y1="297.0" x2="779.0" y2="343.0" stroke="#d948bb"/>
<line x1="779.0" y1="343.0" x2="780.5" y2="297.0" stroke="#ca4cce"/>
<line x1="780.5" y1="297.0" x2="782.0" y2="343.0" stroke="#d948bb"/>
<line x1="782.0" y1="343.0" x2="783.0" y2="328.2" stroke="#ca4cce"/>
<line x1="783.0" y1="328.2" x2="784.0" y2="303.0" stroke="#cf4bc8"/>
<line x1="784.0" y1="303.0" x2="785.5" y2="375.0" stroke="#d748bd"/>
<line x1="785.5" y1="375.0" x2="787.0" y2="303.0" stroke="#c04fdb"/>
<line x1="787.0" y1="303.0" x2="787.8" y2="339.4" stroke="#d748bd"/>
<line x1="787.8" y1="339.4" x2="788.6" y2="376.0" stroke="#cb4ccc"/>
<line x1="788.6" y1="376.0" x2="790.0" y2="314.0" stroke="#bf4fdc"/>
<line x1="790.0" y1="314.0" x2="791.5" y2="359.0" stroke="#d449c2"/>
<line x1="791.5" y1="359.0" x2="793.0" y2="314.0" stroke="#c54dd5"/>
<line x1="793.0" y1="314.0" x2="794.5" y2="364.0" stroke="#d449c2"/>
<line x1="794.5" y1="364.0" x2="796.0" y2="314.0" stroke="#c34ed7"/>
<line x1="796.0" y1="314.0" x2="797.5" y2="364.0" stroke="#d449c2"/>
<line x1="797.5" y1="364.0" x2="799.0" y2="303.0" stroke="#c34ed7"/>
<line x1="799.0" y1="303.0" x2="800.5" y2="343.0" stroke="#d748bd"/>
<line x1="800.5" y1="343.0" x2="802.0" y2="303.0" stroke="#ca4cce"/>
<line x1="802.0" y1="303.0" x2="803.5" y2="343.0" stroke="#d748bd"/>
<line x1="803.5" y1="343.0" x2="805.0" y2="292.0" stroke="#ca4cce"/>
<line x1="805.0" y1="292.0" x2="806.5" y2="314.0" stroke="#db48b8"/>
<line x1="806.5" y1="314.0" x2="808.0" y2="292.0" stroke="#d449c2"/>
<line x1="808.0" y1="292.0" x2="809.5" y2="314.0" stroke="#db48b8"/>
<line x1="809.5" y1="314.0" x2="811.0" y2="295.0" stroke="#d449c2"/>
<line x1="811.0" y1="295.0" x2="812.5" y2="314.0" stroke="#da48ba"/>
<line x1="812.5" y1="314.0" x2="814.0" y2="297.0" stroke="#d449c2"/>
<line x1="814.0" y1="297.0" x2="815.5" y2="348.0" stroke="#d948bb"/>
<line x1="815.5" y1="348.0" x2="817.0" y2="306.0" stroke="#c94cd0"/>
<line x1="817.0" y1="306.0" x2="818.5" y2="348.0" stroke="#d649be"/>
<line x1="818.5" y1="348.0" x2="820.0" y2="306.0" stroke="#c94cd0"/>
<line x1="820.0" y1="306.0" x2="821.5" y2="348.0" stroke="#d649be"/>
<line x1="821.5" y1="348.0" x2="823.0" y2="306.0" stroke="#c94cd0"/>
<line x1="823.0" y1="306.0" x2="824.5" y2="297.0" stroke="#d649be"/>
<line x1="824.5" y1="297.0" x2="826.0" y2="319.0" stroke="#d948bb"/>
<line x1="826.0" y1="319.0" x2="827.5" y2="297.0" stroke="#d24ac4"/>
<line x1="827.5" y1="297.0" x2="829.0" y2="319.0" stroke="#d948bb"/>
<line x1="829.0" y1="319.0" x2="830.5" y2="297.0" stroke="#d24ac4"/>
<line x1="830.5" y1="297.0" x2="832.0" y2="348.0" stroke="#d948bb"/>
<line x1="832.0" y1="348.0" x2="833.5" y2="303.0" stroke="#c94cd0"/>
<line x1="833.5" y1="303.0" x2="835.0" y2="348.0" stroke="#d748bd"/>
<line x1="835.0" y1="348.0" x2="836.5" y2="310.0" stroke="#c94cd0"/>
<line x1="836.5" y1="310.0" x2="838.0" y2="348.0" stroke="#d549c0"/>
<line x1="838.0" y1="348.0" x2="839.5" y2="320.0" stroke="#c94cd0"/>
<line x1="839.5" y1="320.0" x2="841.0" y2="330.0" stroke="#d24ac4"/>
<line x1="841.0" y1="330.0" x2="842.5" y2="320.0" stroke="#cf4bc8"/>
<line x1="842.5" y1="320.0" x2="844.0" y2="285.0" stroke="#d24ac4"/>
<line x1="844.0" y1="285.0" x2="845.5" y2="314.0" stroke="#dd47b5"/>
<line x1="845.5" y1="314.0" x2="847.0" y2="285.0" stroke="#d449c2"/>
<line x1="847.0" y1="285.0" x2="848.5" y2="314.0" stroke="#dd47b5"/>
<line x1="848.5" y1="314.0" x2="850.0" y2="340.0" stroke="#d449c2"/>
<line x1="850.0" y1="340.0" x2="851.0" y2="358.7" stroke="#cb4ccd"/>
<line x1="851.0" y1="358.7" x2="852.0" y2="380.0" stroke="#c54dd4"/>
<line x1="852.0" y1="380.0" x2="853.0" y2="401.3" stroke="#be4fdd"/>
<line x1="853.0" y1="401.3" x2="854.0" y2="423.0" stroke="#b751e6"/>
<line x1="854.0" y1="423.0" x2="855.0" y2="413.5" stroke="#b053f0"/>
<line x1="855.0" y1="413.5" x2="856.0" y2="400.0" stroke="#b352ec"/>
<line x1="856.0" y1="400.0" x2="857.5" y2="428.0" stroke="#b851e6"/>
<line x1="857.5" y1="428.0" x2="859.0" y2="401.0" stroke="#af53f2"/>
<line x1="859.0" y1="401.0" x2="860.0" y2="425.9" stroke="#b751e6"/>
<line x1="860.0" y1="425.9" x2="861.0" y2="445.0" stroke="#af53f1"/>
<line x1="861.0" y1="445.0" x2="862.0" y2="424.3" stroke="#a955f9"/>
<line x1="862.0" y1="424.3" x2="863.0" y2="401.0" stroke="#b053f0"/>
<line x1="863.0" y1="401.0" x2="864.5" y2="445.0" stroke="#b751e6"/>
<line x1="864.5" y1="445.0" x2="866.0" y2="406.0" stroke="#a955f9"/>
<line x1="866.0" y1="406.0" x2="867.0" y2="394.6" stroke="#b651e8"/>
<line x1="867.0" y1="394.6" x2="868.0" y2="380.0" stroke="#b950e4"/>
<line x1="868.0" y1="380.0" x2="869.5" y2="359.0" stroke="#be4fdd"/>
<line x1="869.5" y1="359.0" x2="871.0" y2="377.0" stroke="#c54dd5"/>
<line x1="871.0" y1="377.0" x2="872.5" y2="357.0" stroke="#bf4fdc"/>
<line x1="872.5" y1="357.0" x2="874.0" y2="377.0" stroke="#c64dd4"/>
<line x1="874.0" y1="377.0" x2="875.0" y2="333.9" stroke="#bf4fdc"/>
<line x1="875.0" y1="333.9" x2="876.0" y2="300.0" stroke="#cd4bca"/>
<line x1="876.0" y1="300.0" x2="877.5" y2="269.0" stroke="#d848bc"/>
<line x1="877.5" y1="269.0" x2="879.0" y2="319.0" stroke="#e246af"/>
<line x1="879.0" y1="319.0" x2="880.5" y2="270.0" stroke="#d24ac4"/>
<line x1="880.5" y1="270.0" x2="882.0" y2="319.0" stroke="#e246af"/>
<line x1="882.0" y1="319.0" x2="883.5" y2="274.0" stroke="#d24ac4"/>
<line x1="883.5" y1="274.0" x2="885.0" y2="309.0" stroke="#e146b1"/>
<line x1="885.0" y1="309.0" x2="886.5" y2="276.0" stroke="#d549c0"/>
<line x1="886.5" y1="276.0" x2="888.0" y2="309.0" stroke="#e046b2"/>
<line x1="888.0" y1="309.0" x2="889.5" y2="274.0" stroke="#d549c0"/>
<line x1="889.5" y1="274.0" x2="891.0" y2="309.0" stroke="#e146b1"/>
<line x1="891.0" y1="309.0" x2="892.5" y2="280.0" stroke="#d549c0"/>
<line x1="892.5" y1="280.0" x2="894.0" y2="309.0" stroke="#df46b3"/>
<line x1="894.0" y1="309.0" x2="895.5" y2="262.0" stroke="#d549c0"/>
<line x1="895.5" y1="262.0" x2="897.0" y2="300.0" stroke="#e545ac"/>
<line x1="897.0" y1="300.0" x2="898.5" y2="251.0" stroke="#d848bc"/>
<line x1="898.5" y1="251.0" x2="900.0" y2="290.0" stroke="#e844a7"/>
<line x1="900.0" y1="290.0" x2="901.5" y2="255.0" stroke="#dc47b8"/>
<line x1="901.5" y1="255.0" x2="903.0" y2="285.0" stroke="#e744a9"/>
<line x1="903.0" y1="285.0" x2="903.6" y2="206.0" stroke="#dd47b5"/>
<line x1="903.6" y1="206.0" x2="905.0" y2="290.0" stroke="#f74094"/>
<line x1="905.0" y1="290.0" x2="906.5" y2="240.0" stroke="#dc47b8"/>
<line x1="906.5" y1="240.0" x2="908.0" y2="269.0" stroke="#ec43a3"/>
<line x1="908.0" y1="269.0" x2="909.5" y2="240.0" stroke="#e246af"/>
<line x1="909.5" y1="240.0" x2="911.0" y2="269.0" stroke="#ec43a3"/>
<line x1="911.0" y1="269.0" x2="912.5" y2="216.0" stroke="#e246af"/>
<line x1="912.5" y1="216.0" x2="914.0" y2="300.0" stroke="#f44198"/>
<line x1="914.0" y1="300.0" x2="915.5" y2="250.0" stroke="#d848bc"/>
<line x1="915.5" y1="250.0" x2="917.0" y2="301.0" stroke="#e944a7"/>
<line x1="917.0" y1="301.0" x2="918.5" y2="264.0" stroke="#d848bc"/>
<line x1="918.5" y1="264.0" x2="920.0" y2="301.0" stroke="#e445ad"/>
<line x1="920.0" y1="301.0" x2="921.5" y2="270.0" stroke="#d848bc"/>
<line x1="921.5" y1="270.0" x2="923.0" y2="290.0" stroke="#e246af"/>
<line x1="923.0" y1="290.0" x2="924.5" y2="245.0" stroke="#dc47b8"/>
<line x1="924.5" y1="245.0" x2="926.0" y2="290.0" stroke="#ea43a5"/>
<line x1="926.0" y1="290.0" x2="927.5" y2="250.0" stroke="#dc47b8"/>
<line x1="927.5" y1="250.0" x2="929.0" y2="300.0" stroke="#e944a7"/>
<line x1="929.0" y1="300.0" x2="930.5" y2="264.0" stroke="#d848bc"/>
<line x1="930.5" y1="264.0" x2="932.0" y2="314.0" stroke="#e445ad"/>
<line x1="932.0" y1="314.0" x2="933.5" y2="270.0" stroke="#d449c2"/>
<line x1="933.5" y1="270.0" x2="935.0" y2="314.0" stroke="#e246af"/>
<line x1="935.0" y1="314.0" x2="936.5" y2="268.0" stroke="#d449c2"/>
<line x1="936.5" y1="268.0" x2="938.0" y2="300.0" stroke="#e345ae"/>
<line x1="938.0" y1="300.0" x2="939.5" y2="266.0" stroke="#d848bc"/>
<line x1="939.5" y1="266.0" x2="941.0" y2="290.0" stroke="#e345ad"/>
<line x1="941.0" y1="290.0" x2="942.5" y2="300.0" stroke="#dc47b8"/>
<line x1="942.5" y1="300.0" x2="944.0" y2="340.0" stroke="#d848bc"/>
<line x1="944.0" y1="340.0" x2="945.5" y2="370.0" stroke="#cb4ccd"/>
<line x1="945.5" y1="370.0" x2="947.0" y2="393.0" stroke="#c14ed9"/>
<line x1="947.0" y1="393.0" x2="948.5" y2="340.0" stroke="#ba50e3"/>
<line x1="948.5" y1="340.0" x2="950.0" y2="303.0" stroke="#cb4ccd"/>
<line x1="950.0" y1="303.0" x2="951.5" y2="338.0" stroke="#d748bd"/>
<line x1="951.5" y1="338.0" x2="953.0" y2="305.0" stroke="#cc4ccc"/>
<line x1="953.0" y1="305.0" x2="954.5" y2="338.0" stroke="#d749be"/>
<line x1="954.5" y1="338.0" x2="956.0" y2="305.0" stroke="#cc4ccc"/>
<line x1="956.0" y1="305.0" x2="957.5" y2="350.0" stroke="#d749be"/>
<line x1="957.5" y1="350.0" x2="959.0" y2="380.0" stroke="#c84dd1"/>
<line x1="959.0" y1="380.0" x2="960.0" y2="316.6" stroke="#be4fdd"/>
<line x1="960.0" y1="316.6" x2="960.9" y2="324.0" stroke="#d34ac3"/>
<line x1="960.9" y1="324.0" x2="961.7" y2="339.1" stroke="#d04ac6"/>
<line x1="961.7" y1="339.1" x2="962.6" y2="403.2" stroke="#cc4ccc"/>
<line x1="962.6" y1="403.2" x2="963.5" y2="472.8" stroke="#b751e7"/>
<line x1="963.5" y1="472.8" x2="964.8" y2="396.5" stroke="#9d5afb"/>
<line x1="964.8" y1="396.5" x2="966.0" y2="314.9" stroke="#b951e4"/>
<line x1="966.0" y1="314.9" x2="966.9" y2="312.2" stroke="#d34ac2"/>
<line x1="966.9" y1="312.2" x2="967.7" y2="314.5" stroke="#d449c1"/>
<line x1="967.7" y1="314.5" x2="968.6" y2="313.2" stroke="#d449c2"/>
<line x1="968.6" y1="313.2" x2="969.5" y2="323.4" stroke="#d449c1"/>
<line x1="969.5" y1="323.4" x2="970.4" y2="344.3" stroke="#d14ac6"/>
<line x1="970.4" y1="344.3" x2="971.2" y2="371.4" stroke="#ca4cce"/>
<line x1="971.2" y1="371.4" x2="972.1" y2="408.2" stroke="#c14eda"/>
<line x1="972.1" y1="408.2" x2="973.0" y2="410.0" stroke="#b552e9"/>
<line x1="973.0" y1="410.0" x2="973.8" y2="416.8" stroke="#b452ea"/>
<line x1="973.8" y1="416.8" x2="974.6" y2="382.4" stroke="#b252ed"/>
<line x1="974.6" y1="382.4" x2="975.5" y2="344.3" stroke="#bd4fde"/>
<line x1="975.5" y1="344.3" x2="976.4" y2="369.7" stroke="#ca4cce"/>
<line x1="976.4" y1="369.7" x2="977.3" y2="390.9" stroke="#c24ed9"/>
<line x1="977.3" y1="390.9" x2="978.1" y2="297.6" stroke="#bb50e2"/>
<line x1="978.1" y1="297.6" x2="979.0" y2="305.9" stroke="#d948bb"/>
<line x1="979.0" y1="305.9" x2="979.8" y2="308.0" stroke="#d649be"/>
<line x1="979.8" y1="308.0" x2="980.7" y2="316.6" stroke="#d649bf"/>
<line x1="980.7" y1="316.6" x2="981.6" y2="301.2" stroke="#d34ac3"/>
<line x1="981.6" y1="301.2" x2="982.5" y2="285.5" stroke="#d848bc"/>
<line x1="982.5" y1="285.5" x2="983.8" y2="284.3" stroke="#dd47b6"/>
<line x1="983.8" y1="284.3" x2="985.0" y2="283.8" stroke="#dd47b5"/>
<line x1="985.0" y1="283.8" x2="985.9" y2="286.9" stroke="#de47b5"/>
<line x1="985.9" y1="286.9" x2="986.7" y2="286.5" stroke="#dd47b6"/>
<line x1="986.7" y1="286.5" x2="987.6" y2="294.2" stroke="#dd47b6"/>
<line x1="987.6" y1="294.2" x2="988.5" y2="303.7" stroke="#da48b9"/>
<line x1="988.5" y1="303.7" x2="989.4" y2="304.5" stroke="#d749bd"/>
<line x1="989.4" y1="304.5" x2="990.3" y2="302.4" stroke="#d749be"/>
<line x1="990.3" y1="302.4" x2="991.1" y2="312.1" stroke="#d848bd"/>
<line x1="991.1" y1="312.1" x2="992.0" y2="308.0" stroke="#d449c1"/>
<line x1="992.0" y1="308.0" x2="993.2" y2="310.2" stroke="#d649bf"/>
<line x1="993.2" y1="310.2" x2="994.5" y2="302.8" stroke="#d549c0"/>
<line x1="994.5" y1="302.8" x2="995.4" y2="294.1" stroke="#d748bd"/>
<line x1="995.4" y1="294.1" x2="996.2" y2="295.5" stroke="#da48b9"/>
<line x1="996.2" y1="295.5" x2="997.1" y2="292.5" stroke="#da48ba"/>
<line x1="997.1" y1="292.5" x2="998.0" y2="290.0" stroke="#db48b9"/>
<line x1="998.0" y1="290.0" x2="998.8" y2="285.5" stroke="#dc47b8"/>
<line x1="998.8" y1="285.5" x2="999.7" y2="274.3" stroke="#dd47b6"/>
<line x1="999.7" y1="274.3" x2="1001.0" y2="281.9" stroke="#e146b1"/>
<line x1="1001.0" y1="281.9" x2="1002.3" y2="290.7" stroke="#de47b4"/>
<line x1="1002.3" y1="290.7" x2="1003.1" y2="291.6" stroke="#db47b8"/>
<line x1="1003.1" y1="291.6" x2="1004.0" y2="297.6" stroke="#db47b8"/>
<line x1="1004.0" y1="297.6" x2="1004.9" y2="300.7" stroke="#d948bb"/>
<line x1="1004.9" y1="300.7" x2="1005.7" y2="315.2" stroke="#d848bc"/>
<line x1="1005.7" y1="315.2" x2="1006.6" y2="316.6" stroke="#d34ac2"/>
<line x1="1006.6" y1="316.6" x2="1007.5" y2="306.5" stroke="#d34ac3"/>
<line x1="1007.5" y1="306.5" x2="1008.3" y2="303.7" stroke="#d649bf"/>
<line x1="1008.3" y1="303.7" x2="1009.2" y2="295.9" stroke="#d749bd"/>
<line x1="1009.2" y1="295.9" x2="1010.5" y2="292.8" stroke="#da48ba"/>
<line x1="1010.5" y1="292.8" x2="1011.8" y2="297.6" stroke="#db48b9"/>
<line x1="1011.8" y1="297.6" x2="1012.7" y2="352.9" stroke="#d948bb"/>
<line x1="1012.7" y1="352.9" x2="1014.0" y2="360.1" stroke="#c74dd2"/>
<line x1="1014.0" y1="360.1" x2="1015.3" y2="366.7" stroke="#c54dd5"/>
<line x1="1015.3" y1="366.7" x2="1016.1" y2="392.4" stroke="#c34ed8"/>
<line x1="1016.1" y1="392.4" x2="1017.0" y2="408.2" stroke="#ba50e3"/>
<line x1="1017.0" y1="408.2" x2="1017.9" y2="418.5" stroke="#b552e9"/>
<line x1="1017.9" y1="418.5" x2="1018.7" y2="440.5" stroke="#b252ee"/>
<line x1="1018.7" y1="440.5" x2="1019.6" y2="451.3" stroke="#aa54f7"/>
<line x1="1019.6" y1="451.3" x2="1019.6" y2="547.1" stroke="#a656fa"/>
<line x1="1019.6" y1="547.1" x2="1020.7" y2="547.2" stroke="#7c69fc"/>
<line x1="1020.7" y1="547.2" x2="1021.8" y2="551.4" stroke="#7c69fc"/>
<line x1="1021.8" y1="551.4" x2="1022.8" y2="549.3" stroke="#7a6afc"/>
<line x1="1022.8" y1="549.3" x2="1023.9" y2="547.1" stroke="#7b69fc"/>
<line x1="1023.9" y1="547.1" x2="1024.8" y2="479.8" stroke="#7c69fc"/>
<line x1="1024.8" y1="479.8" x2="1025.6" y2="418.5" stroke="#9a5bfb"/>
<line x1="1025.6" y1="418.5" x2="1026.5" y2="428.0" stroke="#b252ee"/>
<line x1="1026.5" y1="428.0" x2="1027.3" y2="428.7" stroke="#ae53f2"/>
<line x1="1027.3" y1="428.7" x2="1028.2" y2="434.0" stroke="#ae53f2"/>
<line x1="1028.2" y1="434.0" x2="1029.1" y2="552.3" stroke="#ad54f4"/>
<line x1="1029.1" y1="552.3" x2="1029.9" y2="556.6" stroke="#796afc"/>
<line x1="1029.9" y1="556.6" x2="1030.8" y2="571.3" stroke="#786bfc"/>
<line x1="1030.8" y1="571.3" x2="1031.7" y2="558.9" stroke="#716efd"/>
<line x1="1031.7" y1="558.9" x2="1032.5" y2="557.4" stroke="#766bfc"/>
<line x1="1032.5" y1="557.4" x2="1033.7" y2="563.6" stroke="#776bfc"/>
<line x1="1033.7" y1="563.6" x2="1034.8" y2="569.5" stroke="#746cfc"/>
<line x1="1034.8" y1="569.5" x2="1036.0" y2="576.4" stroke="#726dfc"/>
<line x1="1036.0" y1="576.4" x2="1037.3" y2="575.1" stroke="#6f6ffd"/>
<line x1="1037.3" y1="575.1" x2="1038.6" y2="578.2" stroke="#6f6efd"/>
<line x1="1038.6" y1="578.2" x2="1039.8" y2="531.5" stroke="#6e6ffd"/>
<line x1="1039.8" y1="531.5" x2="1041.2" y2="347.7" stroke="#8366fc"/>
<line x1="1041.2" y1="347.7" x2="1042.1" y2="332.5" stroke="#c94cd0"/>
<line x1="1042.1" y1="332.5" x2="1042.9" y2="325.3" stroke="#ce4bc9"/>
<line x1="1042.9" y1="325.3" x2="1043.8" y2="320.1" stroke="#d04ac6"/>
<line x1="1043.8" y1="320.1" x2="1044.6" y2="318.4" stroke="#d24ac4"/>
<line x1="1044.6" y1="318.4" x2="1045.5" y2="305.1" stroke="#d24ac4"/>
<line x1="1045.5" y1="305.1" x2="1046.4" y2="295.9" stroke="#d749be"/>
<line x1="1046.4" y1="295.9" x2="1047.7" y2="302.2" stroke="#da48ba"/>
<line x1="1047.7" y1="302.2" x2="1049.0" y2="301.1" stroke="#d848bd"/>
<line x1="1049.0" y1="301.1" x2="1049.8" y2="309.4" stroke="#d848bc"/>
<line x1="1049.8" y1="309.4" x2="1050.7" y2="328.7" stroke="#d549c0"/>
<line x1="1050.7" y1="328.7" x2="1051.6" y2="324.6" stroke="#cf4bc8"/>
<line x1="1051.6" y1="324.6" x2="1052.4" y2="314.9" stroke="#d04ac6"/>
<line x1="1052.4" y1="314.9" x2="1053.2" y2="310.0" stroke="#d34ac2"/>
<line x1="1053.2" y1="310.0" x2="1054.1" y2="297.6" stroke="#d549c0"/>
<line x1="1054.1" y1="297.6" x2="1055.0" y2="293.6" stroke="#d948bb"/>
<line x1="1055.0" y1="293.6" x2="1056.0" y2="298.0" stroke="#da48b9"/>
<line x1="1056.0" y1="298.0" x2="1057.1" y2="360.0" stroke="#d948bb"/>
<line x1="1057.1" y1="360.0" x2="1058.2" y2="439.1" stroke="#c54dd5"/>
<line x1="1058.2" y1="439.1" x2="1059.2" y2="508.8" stroke="#ab54f6"/>
<line x1="1059.2" y1="508.8" x2="1060.2" y2="519.5" stroke="#8d61fb"/>
<line x1="1060.2" y1="519.5" x2="1061.3" y2="525.5" stroke="#8863fb"/>
<line x1="1061.3" y1="525.5" x2="1062.3" y2="578.1" stroke="#8564fc"/>
<line x1="1062.3" y1="578.1" x2="1063.4" y2="621.8" stroke="#6e6ffd"/>
<line x1="1063.4" y1="621.8" x2="1064.5" y2="531.6" stroke="#5a78fe"/>
<line x1="1064.5" y1="531.6" x2="1065.5" y2="446.0" stroke="#8366fc"/>
<line x1="1065.5" y1="446.0" x2="1066.5" y2="465.5" stroke="#a955f9"/>
<line x1="1066.5" y1="465.5" x2="1067.6" y2="487.9" stroke="#a059fa"/>
<line x1="1067.6" y1="487.9" x2="1068.6" y2="575.7" stroke="#965dfb"/>
<line x1="1068.6" y1="575.7" x2="1069.6" y2="564.1" stroke="#6f6efd"/>
<line x1="1069.6" y1="564.1" x2="1070.7" y2="560.3" stroke="#746cfc"/>
<line x1="1070.7" y1="560.3" x2="1071.7" y2="544.4" stroke="#766bfc"/>
<line x1="1071.7" y1="544.4" x2="1072.8" y2="555.8" stroke="#7d68fc"/>
<line x1="1072.8" y1="555.8" x2="1073.8" y2="563.7" stroke="#786afc"/>
<line x1="1073.8" y1="563.7" x2="1074.9" y2="575.7" stroke="#746cfc"/>
<line x1="1074.9" y1="575.7" x2="1075.9" y2="564.5" stroke="#6f6efd"/>
<line x1="1075.9" y1="564.5" x2="1077.0" y2="552.4" stroke="#746cfc"/>
<line x1="1077.0" y1="552.4" x2="1078.0" y2="544.4" stroke="#796afc"/>
<line x1="1078.0" y1="544.4" x2="1079.0" y2="553.0" stroke="#7d68fc"/>
<line x1="1079.0" y1="553.0" x2="1080.1" y2="571.5" stroke="#796afc"/>
<line x1="1080.1" y1="571.5" x2="1081.0" y2="481.4" stroke="#716efd"/>
<line x1="1081.0" y1="481.4" x2="1082.0" y2="400.0" stroke="#995cfb"/>
<line x1="1082.0" y1="400.0" x2="1083.0" y2="405.0" stroke="#b851e6"/>
<line x1="1083.0" y1="405.0" x2="1084.0" y2="400.3" stroke="#b651e8"/>
<line x1="1084.0" y1="400.3" x2="1085.0" y2="404.0" stroke="#b851e6"/>
<line x1="1085.0" y1="404.0" x2="1085.3" y2="525.5" stroke="#b651e8"/>
<line x1="1085.3" y1="525.5" x2="1086.3" y2="543.9" stroke="#8564fc"/>
<line x1="1086.3" y1="543.9" x2="1087.4" y2="552.7" stroke="#7d68fc"/>
<line x1="1087.4" y1="552.7" x2="1088.5" y2="536.3" stroke="#796afc"/>
<line x1="1088.5" y1="536.3" x2="1089.5" y2="525.5" stroke="#8167fc"/>
<line x1="1089.5" y1="525.5" x2="1090.5" y2="537.6" stroke="#8564fc"/>
<line x1="1090.5" y1="537.6" x2="1091.6" y2="554.8" stroke="#8067fc"/>
<line x1="1091.6" y1="554.8" x2="1092.6" y2="567.5" stroke="#786afc"/>
<line x1="1092.6" y1="567.5" x2="1093.7" y2="576.5" stroke="#736dfc"/>
<line x1="1093.7" y1="576.5" x2="1094.7" y2="592.5" stroke="#6f6ffd"/>
<line x1="1094.7" y1="592.5" x2="1095.8" y2="591.1" stroke="#6772fd"/>
<line x1="1095.8" y1="591.1" x2="1096.8" y2="597.5" stroke="#6871fd"/>
<line x1="1096.8" y1="597.5" x2="1097.9" y2="592.5" stroke="#6573fd"/>
<line x1="1097.9" y1="592.5" x2="1099.0" y2="565.3" stroke="#6772fd"/>
<line x1="1099.0" y1="565.3" x2="1100.0" y2="529.7" stroke="#746cfc"/>
<line x1="1100.0" y1="529.7" x2="1101.0" y2="539.4" stroke="#8465fc"/>
<line x1="1101.0" y1="539.4" x2="1102.1" y2="542.3" stroke="#7f67fc"/>
<line x1="1102.1" y1="542.3" x2="1103.2" y2="487.2" stroke="#7e68fc"/>
<line x1="1103.2" y1="487.2" x2="1104.2" y2="429.3" stroke="#965dfb"/>
<line x1="1104.2" y1="429.3" x2="1105.2" y2="473.6" stroke="#ae53f2"/>
<line x1="1105.2" y1="473.6" x2="1106.3" y2="508.8" stroke="#9d5afb"/>
<line x1="1106.3" y1="508.8" x2="1107.3" y2="479.1" stroke="#8d61fb"/>
<line x1="1107.3" y1="479.1" x2="1108.3" y2="439.7" stroke="#9a5bfb"/>
<line x1="1108.3" y1="439.7" x2="1109.4" y2="525.5" stroke="#ab54f7"/>
<line x1="1109.4" y1="525.5" x2="1110.4" y2="412.6" stroke="#8564fc"/>
<line x1="1110.4" y1="412.6" x2="1111.5" y2="420.1" stroke="#b452eb"/>
<line x1="1111.5" y1="420.1" x2="1112.5" y2="428.9" stroke="#b153ee"/>
<line x1="1112.5" y1="428.9" x2="1113.6" y2="433.5" stroke="#ae53f2"/>
<line x1="1113.6" y1="433.5" x2="1114.0" y2="382.0" stroke="#ad54f4"/>
<line x1="1114.0" y1="382.0" x2="1115.0" y2="370.0" stroke="#be4fde"/>
<line x1="1115.0" y1="370.0" x2="1116.0" y2="370.6" stroke="#c14ed9"/>
<line x1="1116.0" y1="370.6" x2="1117.0" y2="360.5" stroke="#c14ed9"/>
<line x1="1117.0" y1="360.5" x2="1118.0" y2="354.0" stroke="#c54dd5"/>
<line x1="1118.0" y1="354.0" x2="1119.0" y2="357.4" stroke="#c74dd3"/>
<line x1="1119.0" y1="357.4" x2="1120.0" y2="356.9" stroke="#c64dd4"/>
<line x1="1120.0" y1="356.9" x2="1121.0" y2="356.0" stroke="#c64dd4"/>
<line x1="1121.0" y1="356.0" x2="1122.0" y2="506.7" stroke="#c64dd3"/>
<line x1="1122.0" y1="506.7" x2="1123.0" y2="480.6" stroke="#8e61fb"/>
<line x1="1123.0" y1="480.6" x2="1124.1" y2="454.3" stroke="#995cfb"/>
<line x1="1124.1" y1="454.3" x2="1125.1" y2="435.6" stroke="#a556fa"/>
<line x1="1125.1" y1="435.6" x2="1126.2" y2="425.0" stroke="#ac54f5"/>
<line x1="1126.2" y1="425.0" x2="1127.2" y2="405.0" stroke="#af53f0"/>
<line x1="1127.2" y1="405.0" x2="1128.2" y2="415.2" stroke="#b651e8"/>
<line x1="1128.2" y1="415.2" x2="1129.3" y2="433.5" stroke="#b352ec"/>
<line x1="1129.3" y1="433.5" x2="1130.3" y2="484.4" stroke="#ad54f4"/>
<line x1="1130.3" y1="484.4" x2="1131.4" y2="536.0" stroke="#985cfb"/>
<line x1="1131.4" y1="536.0" x2="1132.5" y2="487.2" stroke="#8167fc"/>
<line x1="1132.5" y1="487.2" x2="1133.5" y2="441.8" stroke="#965dfb"/>
<line x1="1133.5" y1="441.8" x2="1134.8" y2="370.7" stroke="#aa54f7"/>
<line x1="1134.8" y1="370.7" x2="1136.0" y2="304.0" stroke="#c14eda"/>
<line x1="1136.0" y1="304.0" x2="1137.0" y2="306.6" stroke="#d749bd"/>
<line x1="1137.0" y1="306.6" x2="1138.0" y2="309.2" stroke="#d649bf"/>
<line x1="1138.0" y1="309.2" x2="1139.0" y2="304.0" stroke="#d549c0"/>
<line x1="1139.0" y1="304.0" x2="1140.0" y2="306.7" stroke="#d749bd"/>
<line x1="1140.0" y1="306.7" x2="1141.0" y2="316.4" stroke="#d649bf"/>
<line x1="1141.0" y1="316.4" x2="1142.0" y2="320.0" stroke="#d34ac3"/>
<line x1="1142.0" y1="320.0" x2="1143.0" y2="319.1" stroke="#d24ac4"/>
<line x1="1143.0" y1="319.1" x2="1144.0" y2="323.3" stroke="#d24ac4"/>
<line x1="1144.0" y1="323.3" x2="1145.0" y2="324.0" stroke="#d14ac6"/>
<line x1="1145.0" y1="324.0" x2="1146.0" y2="310.8" stroke="#d04ac6"/>
<line x1="1146.0" y1="310.8" x2="1147.0" y2="300.0" stroke="#d549c0"/>
<line x1="1147.0" y1="300.0" x2="1148.0" y2="291.3" stroke="#d848bc"/>
<line x1="1148.0" y1="291.3" x2="1149.0" y2="286.3" stroke="#db47b8"/>
<line x1="1149.0" y1="286.3" x2="1150.0" y2="281.8" stroke="#dd47b6"/>
<line x1="1150.0" y1="281.8" x2="1151.0" y2="280.0" stroke="#de47b4"/>
<line x1="1151.0" y1="280.0" x2="1152.0" y2="306.0" stroke="#df46b3"/>
<line x1="1152.0" y1="306.0" x2="1153.0" y2="297.5" stroke="#d649be"/>
<line x1="1153.0" y1="297.5" x2="1154.0" y2="280.0" stroke="#d948bb"/>
<line x1="1154.0" y1="280.0" x2="1155.0" y2="299.0" stroke="#df46b3"/>
<line x1="1155.0" y1="299.0" x2="1156.0" y2="318.0" stroke="#d948bb"/>
<line x1="1156.0" y1="318.0" x2="1157.0" y2="302.9" stroke="#d24ac3"/>
<line x1="1157.0" y1="302.9" x2="1158.0" y2="298.5" stroke="#d748bd"/>
<line x1="1158.0" y1="298.5" x2="1159.0" y2="282.0" stroke="#d948bb"/>
<line x1="1159.0" y1="282.0" x2="1160.0" y2="290.1" stroke="#de47b4"/>
<line x1="1160.0" y1="290.1" x2="1161.0" y2="286.8" stroke="#dc47b8"/>
<line x1="1161.0" y1="286.8" x2="1162.0" y2="290.0" stroke="#dd47b6"/>
<line x1="1162.0" y1="290.0" x2="1162.6" y2="262.5" stroke="#dc47b8"/>
<line x1="1162.6" y1="262.5" x2="1163.6" y2="243.2" stroke="#e545ac"/>
<line x1="1163.6" y1="243.2" x2="1164.7" y2="228.4" stroke="#eb43a4"/>
<line x1="1164.7" y1="228.4" x2="1165.7" y2="216.4" stroke="#f0429e"/>
<line x1="1165.7" y1="216.4" x2="1166.7" y2="223.8" stroke="#f44199"/>
<line x1="1166.7" y1="223.8" x2="1167.8" y2="238.4" stroke="#f1429c"/>
<line x1="1167.8" y1="238.4" x2="1168.8" y2="252.0" stroke="#ec43a2"/>
<line x1="1168.8" y1="252.0" x2="1169.7" y2="224.5" stroke="#e844a8"/>
<line x1="1169.7" y1="224.5" x2="1170.5" y2="206.0" stroke="#f1429c"/>
<line x1="1170.5" y1="206.0" x2="1171.8" y2="226.1" stroke="#f74094"/>
<line x1="1171.8" y1="226.1" x2="1173.0" y2="252.0" stroke="#f0429d"/>
<line x1="1173.0" y1="252.0" x2="1174.2" y2="214.8" stroke="#e844a8"/>
<line x1="1174.2" y1="214.8" x2="1175.5" y2="183.0" stroke="#f44198"/>
<line x1="1175.5" y1="183.0" x2="1176.4" y2="206.1" stroke="#ff3e8b"/>
<line x1="1176.4" y1="206.1" x2="1177.3" y2="231.9" stroke="#f74094"/>
<line x1="1177.3" y1="231.9" x2="1178.2" y2="249.9" stroke="#ef429f"/>
<line x1="1178.2" y1="249.9" x2="1179.2" y2="272.7" stroke="#e944a7"/>
<line x1="1179.2" y1="272.7" x2="1180.3" y2="290.0" stroke="#e146b0"/>
<line x1="1180.3" y1="290.0" x2="1181.2" y2="272.4" stroke="#dc47b8"/>
<line x1="1181.2" y1="272.4" x2="1182.1" y2="255.7" stroke="#e146b0"/>
<line x1="1182.1" y1="255.7" x2="1183.0" y2="240.0" stroke="#e744a9"/>
<line x1="1183.0" y1="240.0" x2="1184.0" y2="263.3" stroke="#ec43a3"/>
<line x1="1184.0" y1="263.3" x2="1185.0" y2="286.0" stroke="#e445ac"/>
<line x1="1185.0" y1="286.0" x2="1185.9" y2="269.5" stroke="#dd47b6"/>
<line x1="1185.9" y1="269.5" x2="1186.8" y2="253.9" stroke="#e246af"/>
<line x1="1186.8" y1="253.9" x2="1187.7" y2="240.5" stroke="#e744a8"/>
<line x1="1187.7" y1="240.5" x2="1188.8" y2="269.4" stroke="#ec43a3"/>
<line x1="1188.8" y1="269.4" x2="1190.0" y2="308.0" stroke="#e246af"/>
<line x1="1190.0" y1="308.0" x2="1191.0" y2="284.8" stroke="#d649bf"/>
<line x1="1191.0" y1="284.8" x2="1192.0" y2="271.6" stroke="#dd47b5"/>
<line x1="1192.0" y1="271.6" x2="1193.0" y2="245.7" stroke="#e246b0"/>
<line x1="1193.0" y1="245.7" x2="1194.0" y2="266.7" stroke="#ea44a5"/>
<line x1="1194.0" y1="266.7" x2="1195.0" y2="296.0" stroke="#e345ae"/>
<line x1="1195.0" y1="296.0" x2="1196.0" y2="270.9" stroke="#da48ba"/>
<line x1="1196.0" y1="270.9" x2="1197.1" y2="245.7" stroke="#e246b0"/>
<line x1="1197.1" y1="245.7" x2="1198.0" y2="267.3" stroke="#ea44a5"/>
<line x1="1198.0" y1="267.3" x2="1199.0" y2="286.0" stroke="#e345ae"/>
<line x1="1199.0" y1="286.0" x2="1200.2" y2="258.3" stroke="#dd47b6"/>
<line x1="1200.2" y1="258.3" x2="1201.3" y2="222.7" stroke="#e645aa"/>
<line x1="1201.3" y1="222.7" x2="1202.2" y2="253.2" stroke="#f2429b"/>
<line x1="1202.2" y1="253.2" x2="1203.0" y2="290.0" stroke="#e844a8"/>
<line x1="1203.0" y1="290.0" x2="1204.2" y2="290.5" stroke="#dc47b8"/>
<line x1="1204.2" y1="290.5" x2="1205.4" y2="296.0" stroke="#db47b8"/>
<line x1="1205.4" y1="296.0" x2="1206.0" y2="302.0" stroke="#da48ba"/>
<line x1="1206.0" y1="302.0" x2="1207.0" y2="307.2" stroke="#d848bd"/>
<line x1="1207.0" y1="307.2" x2="1208.0" y2="318.0" stroke="#d649bf"/>
<line x1="1208.0" y1="318.0" x2="1208.6" y2="270.8" stroke="#d24ac3"/>
<line x1="1208.6" y1="270.8" x2="1210.0" y2="268.0" stroke="#e246b0"/>
<line x1="1210.0" y1="268.0" x2="1211.0" y2="278.2" stroke="#e345ae"/>
<line x1="1211.0" y1="278.2" x2="1212.0" y2="290.1" stroke="#df46b3"/>
<line x1="1212.0" y1="290.1" x2="1213.0" y2="302.0" stroke="#dc47b8"/>
<line x1="1213.0" y1="302.0" x2="1214.0" y2="332.0" stroke="#d848bd"/>
<line x1="1214.0" y1="332.0" x2="1215.0" y2="352.0" stroke="#ce4bc9"/>
<line x1="1215.0" y1="352.0" x2="1216.0" y2="355.8" stroke="#c74dd2"/>
<line x1="1216.0" y1="355.8" x2="1217.0" y2="352.0" stroke="#c64dd3"/>
<line x1="1217.0" y1="352.0" x2="1218.0" y2="329.1" stroke="#c74dd2"/>
<line x1="1218.0" y1="329.1" x2="1219.0" y2="298.0" stroke="#cf4bc8"/>
<line x1="1219.0" y1="298.0" x2="1220.0" y2="300.1" stroke="#d948bb"/>
<line x1="1220.0" y1="300.1" x2="1221.0" y2="307.5" stroke="#d848bc"/>
<line x1="1221.0" y1="307.5" x2="1222.0" y2="320.0" stroke="#d649bf"/>
<line x1="1222.0" y1="320.0" x2="1223.2" y2="275.0" stroke="#d24ac4"/>
<line x1="1223.2" y1="275.0" x2="1224.1" y2="330.3" stroke="#e046b1"/>
<line x1="1224.1" y1="330.3" x2="1225.1" y2="385.4" stroke="#ce4bc9"/>
<line x1="1225.1" y1="385.4" x2="1226.0" y2="434.0" stroke="#bc50e0"/>
<line x1="1226.0" y1="434.0" x2="1227.0" y2="376.7" stroke="#ad54f4"/>
<line x1="1227.0" y1="376.7" x2="1228.0" y2="320.0" stroke="#bf4fdc"/>
<line x1="1228.0" y1="320.0" x2="1229.0" y2="346.0" stroke="#d24ac4"/>
<line x1="1229.0" y1="346.0" x2="1230.0" y2="370.0" stroke="#c94ccf"/>
<line x1="1230.0" y1="370.0" x2="1231.0" y2="325.5" stroke="#c14ed9"/>
<line x1="1231.0" y1="325.5" x2="1232.0" y2="292.0" stroke="#d04ac7"/>
<line x1="1232.0" y1="292.0" x2="1233.0" y2="286.8" stroke="#db48b8"/>
<line x1="1233.0" y1="286.8" x2="1234.0" y2="288.7" stroke="#dd47b6"/>
<line x1="1234.0" y1="288.7" x2="1235.0" y2="280.0" stroke="#dc47b7"/>
<line x1="1235.0" y1="280.0" x2="1236.0" y2="273.5" stroke="#df46b3"/>
<line x1="1236.0" y1="273.5" x2="1237.0" y2="263.7" stroke="#e146b1"/>
<line x1="1237.0" y1="263.7" x2="1237.9" y2="254.8" stroke="#e445ad"/>
<line x1="1237.9" y1="254.8" x2="1238.9" y2="239.5" stroke="#e744a9"/>
<line x1="1238.9" y1="239.5" x2="1240.0" y2="262.0" stroke="#ec43a2"/>
<line x1="1240.0" y1="262.0" x2="1241.0" y2="290.0" stroke="#e545ac"/>
<line x1="1241.0" y1="290.0" x2="1242.0" y2="296.7" stroke="#dc47b8"/>
<line x1="1242.0" y1="296.7" x2="1243.0" y2="312.0" stroke="#d948ba"/>
<line x1="1243.0" y1="312.0" x2="1244.0" y2="299.2" stroke="#d449c1"/>
<line x1="1244.0" y1="299.2" x2="1245.0" y2="294.0" stroke="#d948bb"/>
<line x1="1245.0" y1="294.0" x2="1246.2" y2="290.0" stroke="#da48b9"/>
<line x1="1246.2" y1="290.0" x2="1247.3" y2="285.5" stroke="#dc47b8"/>
<line x1="1247.3" y1="285.5" x2="1248.2" y2="347.3" stroke="#dd47b6"/>
<line x1="1248.2" y1="347.3" x2="1249.1" y2="410.0" stroke="#c94cd0"/>
<line x1="1249.1" y1="410.0" x2="1250.0" y2="465.0" stroke="#b452ea"/>
<line x1="1250.0" y1="465.0" x2="1251.0" y2="415.1" stroke="#a058fa"/>
<line x1="1251.0" y1="415.1" x2="1252.0" y2="362.0" stroke="#b352ec"/>
<line x1="1252.0" y1="362.0" x2="1253.0" y2="308.0" stroke="#c44ed6"/>
<line x1="1253.0" y1="308.0" x2="1254.0" y2="366.9" stroke="#d649bf"/>
<line x1="1254.0" y1="366.9" x2="1255.0" y2="420.0" stroke="#c24ed8"/>
<line x1="1255.0" y1="420.0" x2="1256.2" y2="437.0" stroke="#b153ee"/>
<line x1="1256.2" y1="437.0" x2="1257.4" y2="455.4" stroke="#ac54f5"/>
<line x1="1257.4" y1="455.4" x2="1258.6" y2="472.3" stroke="#a556fa"/>
<line x1="1258.6" y1="472.3" x2="1259.8" y2="449.0" stroke="#9d5afa"/>
<line x1="1259.8" y1="449.0" x2="1260.9" y2="435.9" stroke="#a755fa"/>
<line x1="1260.9" y1="435.9" x2="1262.0" y2="429.0" stroke="#ac54f5"/>
<line x1="1262.0" y1="429.0" x2="1263.2" y2="413.0" stroke="#ae53f2"/>
<line x1="1263.2" y1="413.0" x2="1264.3" y2="406.0" stroke="#b352eb"/>
<line x1="1264.3" y1="406.0" x2="1265.4" y2="431.2" stroke="#b651e8"/>
<line x1="1265.4" y1="431.2" x2="1266.6" y2="448.7" stroke="#ad54f3"/>
<line x1="1266.6" y1="448.7" x2="1267.7" y2="467.7" stroke="#a855fa"/>
<line x1="1267.7" y1="467.7" x2="1268.8" y2="454.2" stroke="#9f59fa"/>
<line x1="1268.8" y1="454.2" x2="1270.0" y2="440.9" stroke="#a556fa"/>
<line x1="1270.0" y1="440.9" x2="1271.1" y2="433.6" stroke="#aa54f7"/>
<line x1="1271.1" y1="433.6" x2="1272.2" y2="502.5" stroke="#ad54f4"/>
<line x1="1272.2" y1="502.5" x2="1273.4" y2="576.8" stroke="#9060fb"/>
<line x1="1273.4" y1="576.8" x2="1274.6" y2="620.9" stroke="#6e6ffd"/>
<line x1="1274.6" y1="620.9" x2="1275.7" y2="662.0" stroke="#5b77fe"/>
<line x1="1275.7" y1="662.0" x2="1276.8" y2="600.0" stroke="#4880fe"/>
<line x1="1276.8" y1="600.0" x2="1278.0" y2="533.6" stroke="#6473fd"/>
<line x1="1278.0" y1="533.6" x2="1279.1" y2="562.7" stroke="#8266fc"/>
<line x1="1279.1" y1="562.7" x2="1280.3" y2="595.5" stroke="#756cfc"/>
<line x1="1280.3" y1="595.5" x2="1281.4" y2="633.6" stroke="#6672fd"/>
<line x1="1281.4" y1="633.6" x2="1282.5" y2="598.3" stroke="#557afe"/>
<line x1="1282.5" y1="598.3" x2="1283.7" y2="563.3" stroke="#6573fd"/>
<line x1="1283.7" y1="563.3" x2="1284.8" y2="526.8" stroke="#756cfc"/>
<line x1="1284.8" y1="526.8" x2="1285.9" y2="564.2" stroke="#8565fc"/>
<line x1="1285.9" y1="564.2" x2="1287.0" y2="604.1" stroke="#746cfc"/>
<line x1="1287.0" y1="604.1" x2="1288.2" y2="552.6" stroke="#6274fd"/>
<line x1="1288.2" y1="552.6" x2="1289.3" y2="508.2" stroke="#796afc"/>
<line x1="1289.3" y1="508.2" x2="1290.5" y2="458.6" stroke="#8d61fb"/>
<line x1="1290.5" y1="458.6" x2="1291.6" y2="506.7" stroke="#a357fa"/>
<line x1="1291.6" y1="506.7" x2="1292.7" y2="565.5" stroke="#8e61fb"/>
<line x1="1292.7" y1="565.5" x2="1293.8" y2="508.8" stroke="#746cfc"/>
<line x1="1293.8" y1="508.8" x2="1295.0" y2="456.4" stroke="#8d61fb"/>
<line x1="1295.0" y1="456.4" x2="1296.2" y2="448.0" stroke="#a457fa"/>
<line x1="1296.2" y1="448.0" x2="1297.3" y2="440.5" stroke="#a855fa"/>
<line x1="1297.3" y1="440.5" x2="1298.4" y2="498.9" stroke="#aa54f7"/>
<line x1="1298.4" y1="498.9" x2="1299.5" y2="547.3" stroke="#915ffb"/>
<line x1="1299.5" y1="547.3" x2="1300.7" y2="517.1" stroke="#7c69fc"/>
<line x1="1300.7" y1="517.1" x2="1301.8" y2="487.9" stroke="#8963fb"/>
<line x1="1301.8" y1="487.9" x2="1303.0" y2="451.8" stroke="#965dfb"/>
<line x1="1303.0" y1="451.8" x2="1304.1" y2="458.4" stroke="#a656fa"/>
<line x1="1304.1" y1="458.4" x2="1305.2" y2="465.5" stroke="#a357fa"/>
<line x1="1305.2" y1="465.5" x2="1306.3" y2="514.8" stroke="#a058fa"/>
<line x1="1306.3" y1="514.8" x2="1307.5" y2="570.0" stroke="#8a62fb"/>
<line x1="1307.5" y1="570.0" x2="1308.7" y2="517.2" stroke="#726dfc"/>
<line x1="1308.7" y1="517.2" x2="1309.8" y2="470.0" stroke="#8963fb"/>
<line x1="1309.8" y1="470.0" x2="1310.9" y2="510.7" stroke="#9e59fa"/>
<line x1="1310.9" y1="510.7" x2="1312.1" y2="543.5" stroke="#8c61fb"/>
<line x1="1312.1" y1="543.5" x2="1313.2" y2="576.8" stroke="#7d68fc"/>
<line x1="1313.2" y1="576.8" x2="1314.3" y2="549.7" stroke="#6e6ffd"/>
<line x1="1314.3" y1="549.7" x2="1315.5" y2="526.8" stroke="#7b69fc"/>
<line x1="1315.5" y1="526.8" x2="1316.6" y2="565.9" stroke="#8565fc"/>
<line x1="1316.6" y1="565.9" x2="1317.7" y2="615.5" stroke="#736cfc"/>
<line x1="1317.7" y1="615.5" x2="1318.8" y2="556.4" stroke="#5d76fd"/>
<line x1="1318.8" y1="556.4" x2="1320.0" y2="497.3" stroke="#786bfc"/>
<line x1="1320.0" y1="497.3" x2="1321.2" y2="482.2" stroke="#925ffb"/>
<line x1="1321.2" y1="482.2" x2="1322.3" y2="463.2" stroke="#995cfb"/>
<line x1="1322.3" y1="463.2" x2="1323.4" y2="507.8" stroke="#a158fa"/>
<line x1="1323.4" y1="507.8" x2="1324.5" y2="554.1" stroke="#8d61fb"/>
<line x1="1324.5" y1="554.1" x2="1325.7" y2="526.4" stroke="#796afc"/>
<line x1="1325.7" y1="526.4" x2="1326.8" y2="504.1" stroke="#8565fc"/>
<line x1="1326.8" y1="504.1" x2="1327.9" y2="506.7" stroke="#8f60fb"/>
<line x1="1327.9" y1="506.7" x2="1329.1" y2="510.3" stroke="#8e61fb"/>
<line x1="1329.1" y1="510.3" x2="1330.2" y2="506.4" stroke="#8c61fb"/>
<line x1="1330.2" y1="506.4" x2="1331.3" y2="476.1" stroke="#8e61fb"/>
<line x1="1331.3" y1="476.1" x2="1332.5" y2="451.8" stroke="#9b5bfb"/>
<line x1="1332.5" y1="451.8" x2="1333.0" y2="308.0" stroke="#a656fa"/>
<line x1="1333.0" y1="308.0" x2="1333.5" y2="451.7" stroke="#d649bf"/>
<line x1="1333.5" y1="451.7" x2="1334.7" y2="394.6" stroke="#a656fa"/>
<line x1="1334.7" y1="394.6" x2="1335.9" y2="347.7" stroke="#b950e4"/>
<line x1="1335.9" y1="347.7" x2="1337.1" y2="376.6" stroke="#c94cd0"/>
<line x1="1337.1" y1="376.6" x2="1338.3" y2="409.1" stroke="#bf4fdc"/>
<line x1="1338.3" y1="409.1" x2="1339.5" y2="384.6" stroke="#b552ea"/>
<line x1="1339.5" y1="384.6" x2="1340.6" y2="363.8" stroke="#bd50df"/>
<line x1="1340.6" y1="363.8" x2="1341.8" y2="338.2" stroke="#c34ed7"/>
<line x1="1341.8" y1="338.2" x2="1343.0" y2="362.5" stroke="#cc4ccc"/>
<line x1="1343.0" y1="362.5" x2="1344.2" y2="396.7" stroke="#c44ed6"/>
<line x1="1344.2" y1="396.7" x2="1345.4" y2="421.0" stroke="#b951e4"/>
<line x1="1345.4" y1="421.0" x2="1346.6" y2="382.2" stroke="#b153ef"/>
<line x1="1346.6" y1="382.2" x2="1347.7" y2="338.2" stroke="#bd4fde"/>
<line x1="1347.7" y1="338.2" x2="1348.9" y2="302.7" stroke="#cc4ccc"/>
<line x1="1348.9" y1="302.7" x2="1349.8" y2="302.3" stroke="#d748bd"/>
<line x1="1349.8" y1="302.3" x2="1350.8" y2="298.5" stroke="#d848bd"/>
<line x1="1350.8" y1="298.5" x2="1351.7" y2="306.5" stroke="#d948bb"/>
<line x1="1351.7" y1="306.5" x2="1352.7" y2="298.8" stroke="#d649bf"/>
<line x1="1352.7" y1="298.8" x2="1353.6" y2="300.4" stroke="#d948bb"/>
<line x1="1353.6" y1="300.4" x2="1354.8" y2="310.2" stroke="#d848bc"/>
<line x1="1354.8" y1="310.2" x2="1356.0" y2="310.0" stroke="#d549c0"/>
<line x1="1356.0" y1="310.0" x2="1357.2" y2="319.3" stroke="#d549c0"/>
<line x1="1357.2" y1="319.3" x2="1358.4" y2="309.1" stroke="#d24ac4"/>
<line x1="1358.4" y1="309.1" x2="1359.5" y2="308.0" stroke="#d549c0"/>
<line x1="1359.5" y1="308.0" x2="1360.7" y2="298.0" stroke="#d649bf"/>
<line x1="1360.7" y1="298.0" x2="1361.9" y2="287.9" stroke="#d948bb"/>
<line x1="1361.9" y1="287.9" x2="1363.1" y2="287.2" stroke="#dc47b7"/>
<line x1="1363.1" y1="287.2" x2="1364.3" y2="274.4" stroke="#dc47b6"/>
<line x1="1364.3" y1="274.4" x2="1365.5" y2="340.6" stroke="#e146b1"/>
<line x1="1365.5" y1="340.6" x2="1366.7" y2="326.4" stroke="#cb4ccd"/>
<line x1="1366.7" y1="326.4" x2="1367.8" y2="308.8" stroke="#d04bc7"/>
<line x1="1367.8" y1="308.8" x2="1369.0" y2="298.0" stroke="#d549bf"/>
<line x1="1369.0" y1="298.0" x2="1370.2" y2="329.3" stroke="#d948bb"/>
<line x1="1370.2" y1="329.3" x2="1371.4" y2="366.6" stroke="#cf4bc8"/>
<line x1="1371.4" y1="366.6" x2="1372.6" y2="432.8" stroke="#c34ed8"/>
<line x1="1372.6" y1="432.8" x2="1373.8" y2="392.9" stroke="#ad54f4"/>
<line x1="1373.8" y1="392.9" x2="1374.9" y2="354.8" stroke="#ba50e3"/>
<line x1="1374.9" y1="354.8" x2="1376.1" y2="392.1" stroke="#c64dd3"/>
<line x1="1376.1" y1="392.1" x2="1377.3" y2="430.6" stroke="#ba50e3"/>
<line x1="1377.3" y1="430.6" x2="1378.5" y2="461.1" stroke="#ae54f3"/>
<line x1="1378.5" y1="461.1" x2="1379.7" y2="410.0" stroke="#a258fa"/>
<line x1="1379.7" y1="410.0" x2="1380.8" y2="366.6" stroke="#b452ea"/>
<line x1="1380.8" y1="366.6" x2="1382.0" y2="335.9" stroke="#c34ed8"/>
<line x1="1382.0" y1="335.9" x2="1383.2" y2="307.5" stroke="#cd4bcb"/>
<line x1="1383.2" y1="307.5" x2="1384.4" y2="305.5" stroke="#d649bf"/>
<line x1="1384.4" y1="305.5" x2="1385.6" y2="309.8" stroke="#d749be"/>
<line x1="1385.6" y1="309.8" x2="1386.8" y2="347.0" stroke="#d549c0"/>
<line x1="1386.8" y1="347.0" x2="1387.9" y2="373.7" stroke="#c94cd0"/>
<line x1="1387.9" y1="373.7" x2="1389.1" y2="348.5" stroke="#c04fdb"/>
<line x1="1389.1" y1="348.5" x2="1390.3" y2="331.1" stroke="#c84cd0"/>
<line x1="1390.3" y1="331.1" x2="1391.1" y2="371.1" stroke="#ce4bc9"/>
<line x1="1391.1" y1="371.1" x2="1391.9" y2="421.0" stroke="#c14eda"/>
<line x1="1391.9" y1="421.0" x2="1392.8" y2="444.5" stroke="#b153ef"/>
<line x1="1392.8" y1="444.5" x2="1393.8" y2="477.7" stroke="#a955f9"/>
<line x1="1393.8" y1="477.7" x2="1395.0" y2="412.7" stroke="#9b5bfb"/>
<line x1="1395.0" y1="412.7" x2="1396.2" y2="350.0" stroke="#b452eb"/>
<line x1="1396.2" y1="350.0" x2="1397.4" y2="327.2" stroke="#c84dd1"/>
<line x1="1397.4" y1="327.2" x2="1398.6" y2="295.7" stroke="#cf4bc7"/>
<line x1="1398.6" y1="295.7" x2="1399.8" y2="301.1" stroke="#da48ba"/>
<line x1="1399.8" y1="301.1" x2="1400.9" y2="298.0" stroke="#d848bc"/>
<line x1="1400.9" y1="298.0" x2="1402.1" y2="345.3" stroke="#d948bb"/>
<line x1="1402.1" y1="345.3" x2="1403.3" y2="355.0" stroke="#ca4ccf"/>
<line x1="1403.3" y1="355.0" x2="1404.5" y2="359.5" stroke="#c64dd3"/>
<line x1="1404.5" y1="359.5" x2="1405.7" y2="336.6" stroke="#c54dd5"/>
<line x1="1405.7" y1="336.6" x2="1406.8" y2="302.7" stroke="#cc4bcb"/>
<line x1="1406.8" y1="302.7" x2="1408.0" y2="322.8" stroke="#d748bd"/>
<line x1="1408.0" y1="322.8" x2="1409.2" y2="333.5" stroke="#d14ac5"/>
<line x1="1409.2" y1="333.5" x2="1410.4" y2="338.7" stroke="#cd4bca"/>
<line x1="1410.4" y1="338.7" x2="1411.6" y2="347.7" stroke="#cc4ccc"/>
<line x1="1411.6" y1="347.7" x2="1412.8" y2="321.7" stroke="#c94cd0"/>
<line x1="1412.8" y1="321.7" x2="1413.9" y2="302.7" stroke="#d14ac5"/>
<line x1="1413.9" y1="302.7" x2="1415.1" y2="289.8" stroke="#d748bd"/>
<line x1="1415.1" y1="289.8" x2="1416.3" y2="267.3" stroke="#dc47b7"/>
<line x1="1416.3" y1="267.3" x2="1417.5" y2="285.4" stroke="#e345ae"/>
<line x1="1417.5" y1="285.4" x2="1418.7" y2="298.0" stroke="#dd47b6"/>
<line x1="1418.7" y1="298.0" x2="1419.8" y2="302.3" stroke="#d948bb"/>
<line x1="1419.8" y1="302.3" x2="1421.0" y2="316.9" stroke="#d848bd"/>
<line x1="1421.0" y1="316.9" x2="1422.2" y2="309.3" stroke="#d34ac3"/>
<line x1="1422.2" y1="309.3" x2="1423.4" y2="298.0" stroke="#d549c0"/>
<line x1="1423.4" y1="298.0" x2="1424.6" y2="307.3" stroke="#d948bb"/>
<line x1="1424.6" y1="307.3" x2="1425.7" y2="319.3" stroke="#d649bf"/>
<line x1="1425.7" y1="319.3" x2="1426.9" y2="307.3" stroke="#d24ac4"/>
<line x1="1426.9" y1="307.3" x2="1428.1" y2="298.0" stroke="#d649bf"/>
<line x1="1428.1" y1="298.0" x2="1429.3" y2="319.3" stroke="#d948bb"/>
<line x1="1429.3" y1="319.3" x2="1430.2" y2="308.4" stroke="#d24ac4"/>
<line x1="1430.2" y1="308.4" x2="1431.2" y2="297.6" stroke="#d649bf"/>
<line x1="1431.2" y1="297.6" x2="1432.1" y2="292.2" stroke="#d948bb"/>
<line x1="1432.1" y1="292.2" x2="1433.3" y2="304.9" stroke="#db48b9"/>
<line x1="1433.3" y1="304.9" x2="1434.4" y2="326.0" stroke="#d749be"/>
<line x1="1434.4" y1="326.0" x2="1435.6" y2="346.6" stroke="#d04ac7"/>
<line x1="1435.6" y1="346.6" x2="1436.8" y2="378.1" stroke="#c94ccf"/>
<line x1="1436.8" y1="378.1" x2="1438.0" y2="412.8" stroke="#bf4fdd"/>
<line x1="1438.0" y1="412.8" x2="1439.0" y2="416.0" stroke="#b352eb"/>
<line x1="1439.0" y1="416.0" x2="1440.4" y2="353.7" stroke="#b252ed"/>
<line x1="1440.4" y1="353.7" x2="1441.6" y2="330.3" stroke="#c74dd2"/>
<line x1="1441.6" y1="330.3" x2="1442.7" y2="296.9" stroke="#ce4bc9"/>
<line x1="1442.7" y1="296.9" x2="1443.9" y2="306.2" stroke="#d948ba"/>
<line x1="1443.9" y1="306.2" x2="1445.1" y2="328.8" stroke="#d649be"/>
<line x1="1445.1" y1="328.8" x2="1446.3" y2="337.1" stroke="#cf4bc8"/>
<line x1="1446.3" y1="337.1" x2="1447.4" y2="311.4" stroke="#cc4bcb"/>
<line x1="1447.4" y1="311.4" x2="1448.6" y2="292.2" stroke="#d549c1"/>
<line x1="1448.6" y1="292.2" x2="1449.8" y2="291.8" stroke="#db48b9"/>
<line x1="1449.8" y1="291.8" x2="1451.0" y2="294.6" stroke="#db48b8"/>
<line x1="1451.0" y1="294.6" x2="1452.2" y2="327.7" stroke="#da48ba"/>
<line x1="1452.2" y1="327.7" x2="1453.4" y2="353.7" stroke="#cf4bc7"/>
<line x1="1453.4" y1="353.7" x2="1454.6" y2="379.7" stroke="#c74dd2"/>
<line x1="1454.6" y1="379.7" x2="1455.7" y2="398.6" stroke="#be4fdd"/>
<line x1="1455.7" y1="398.6" x2="1457.0" y2="468.0" stroke="#b851e5"/>
<line x1="1457.0" y1="468.0" x2="1458.1" y2="377.3" stroke="#9f59fa"/>
<line x1="1458.1" y1="377.3" x2="1459.1" y2="400.8" stroke="#bf4fdc"/>
<line x1="1459.1" y1="400.8" x2="1460.0" y2="420.8" stroke="#b751e6"/>
<line x1="1460.0" y1="420.8" x2="1461.0" y2="450.0" stroke="#b153ef"/>
<line x1="1461.0" y1="450.0" x2="1462.0" y2="443.0" stroke="#a755fa"/>
<line x1="1462.0" y1="443.0" x2="1463.0" y2="435.3" stroke="#aa55f8"/>
<line x1="1463.0" y1="435.3" x2="1464.0" y2="430.0" stroke="#ac54f5"/>
<line x1="1464.0" y1="430.0" x2="1465.0" y2="456.6" stroke="#ae53f2"/>
<line x1="1465.0" y1="456.6" x2="1466.0" y2="470.6" stroke="#a457fa"/>
<line x1="1466.0" y1="470.6" x2="1467.0" y2="496.0" stroke="#9e5afa"/>
<line x1="1467.0" y1="496.0" x2="1468.5" y2="436.0" stroke="#935ffb"/>
<line x1="1468.5" y1="436.0" x2="1469.8" y2="419.5" stroke="#ac54f5"/>
<line x1="1469.8" y1="419.5" x2="1471.0" y2="406.0" stroke="#b153ee"/>
<line x1="1471.0" y1="406.0" x2="1472.2" y2="431.4" stroke="#b651e8"/>
<line x1="1472.2" y1="431.4" x2="1473.5" y2="448.0" stroke="#ad54f3"/>
<line x1="1473.5" y1="448.0" x2="1475.0" y2="468.0" stroke="#a855fa"/>
<line x1="1475.0" y1="468.0" x2="1476.0" y2="450.2" stroke="#9f59fa"/>
<line x1="1476.0" y1="450.2" x2="1477.0" y2="441.7" stroke="#a755fa"/>
<line x1="1477.0" y1="441.7" x2="1478.0" y2="430.0" stroke="#aa54f7"/>
<line x1="1478.0" y1="430.0" x2="1479.4" y2="394.0" stroke="#ae53f2"/>
<line x1="1479.4" y1="394.0" x2="1480.6" y2="400.4" stroke="#ba50e3"/>
<line x1="1480.6" y1="400.4" x2="1481.7" y2="400.0" stroke="#b851e6"/>
<line x1="1481.7" y1="400.0" x2="1482.8" y2="408.9" stroke="#b851e6"/>
<line x1="1482.8" y1="408.9" x2="1483.9" y2="406.9" stroke="#b552ea"/>
<line x1="1483.9" y1="406.9" x2="1485.0" y2="418.0" stroke="#b551e9"/>
<line x1="1485.0" y1="418.0" x2="1486.0" y2="412.9" stroke="#b252ed"/>
<line x1="1486.0" y1="412.9" x2="1487.0" y2="413.2" stroke="#b352eb"/>
<line x1="1487.0" y1="413.2" x2="1488.0" y2="422.6" stroke="#b352eb"/>
<line x1="1488.0" y1="422.6" x2="1489.0" y2="418.0" stroke="#b053ef"/>
<line x1="1489.0" y1="418.0" x2="1490.0" y2="441.3" stroke="#b252ed"/>
<line x1="1490.0" y1="441.3" x2="1491.0" y2="470.0" stroke="#aa54f7"/>
<line x1="1491.0" y1="470.0" x2="1492.0" y2="472.7" stroke="#9e59fa"/>
<line x1="1492.0" y1="472.7" x2="1493.0" y2="474.4" stroke="#9d5afb"/>
<line x1="1493.0" y1="474.4" x2="1494.0" y2="470.0" stroke="#9c5afb"/>
<line x1="1494.0" y1="470.0" x2="1495.4" y2="558.0" stroke="#9e59fa"/>
<line x1="1495.4" y1="558.0" x2="1496.4" y2="495.2" stroke="#776bfc"/>
<line x1="1496.4" y1="495.2" x2="1497.4" y2="436.0" stroke="#935efb"/>
<line x1="1497.4" y1="436.0" x2="1498.5" y2="406.1" stroke="#ac54f5"/>
<line x1="1498.5" y1="406.1" x2="1499.6" y2="386.2" stroke="#b651e8"/>
<line x1="1499.6" y1="386.2" x2="1500.7" y2="353.7" stroke="#bc50e0"/>
<line x1="1500.7" y1="353.7" x2="1501.9" y2="336.1" stroke="#c74dd2"/>
<line x1="1501.9" y1="336.1" x2="1503.0" y2="313.2" stroke="#cd4bcb"/>
<line x1="1503.0" y1="313.2" x2="1504.2" y2="296.9" stroke="#d449c1"/>
<line x1="1504.2" y1="296.9" x2="1505.4" y2="309.9" stroke="#d948ba"/>
<line x1="1505.4" y1="309.9" x2="1506.6" y2="318.2" stroke="#d549c0"/>
<line x1="1506.6" y1="318.2" x2="1507.7" y2="365.5" stroke="#d24ac3"/>
<line x1="1507.7" y1="365.5" x2="1509.0" y2="300.0" stroke="#c34ed7"/>
<line x1="1509.0" y1="300.0" x2="1510.5" y2="564.0" stroke="#d848bc"/>
<line x1="1510.5" y1="564.0" x2="1511.0" y2="582.0" stroke="#746cfc"/>
<line x1="1511.0" y1="582.0" x2="1512.0" y2="554.0" stroke="#6c70fd"/>
<line x1="1512.0" y1="554.0" x2="1513.0" y2="527.5" stroke="#796afc"/>
<line x1="1513.0" y1="527.5" x2="1514.0" y2="504.0" stroke="#8465fc"/>
<line x1="1514.0" y1="504.0" x2="1515.0" y2="528.5" stroke="#8f60fb"/>
<line x1="1515.0" y1="528.5" x2="1516.0" y2="566.8" stroke="#8465fc"/>
<line x1="1516.0" y1="566.8" x2="1517.0" y2="594.0" stroke="#736dfc"/>
<line x1="1517.0" y1="594.0" x2="1518.0" y2="575.9" stroke="#6772fd"/>
<line x1="1518.0" y1="575.9" x2="1519.0" y2="550.1" stroke="#6f6efd"/>
<line x1="1519.0" y1="550.1" x2="1520.0" y2="526.0" stroke="#7a69fc"/>
<line x1="1520.0" y1="526.0" x2="1520.9" y2="576.4" stroke="#8565fc"/>
<line x1="1520.9" y1="576.4" x2="1521.8" y2="564.9" stroke="#6f6ffd"/>
<line x1="1521.8" y1="564.9" x2="1522.7" y2="538.4" stroke="#746cfc"/>
<line x1="1522.7" y1="538.4" x2="1523.6" y2="527.3" stroke="#8067fc"/>
<line x1="1523.6" y1="527.3" x2="1524.5" y2="505.7" stroke="#8565fc"/>
<line x1="1524.5" y1="505.7" x2="1525.5" y2="490.0" stroke="#8e60fb"/>
<line x1="1525.5" y1="490.0" x2="1526.6" y2="429.2" stroke="#955dfb"/>
<line x1="1526.6" y1="429.2" x2="1527.7" y2="428.9" stroke="#ae53f2"/>
<line x1="1527.7" y1="428.9" x2="1528.7" y2="434.2" stroke="#ae53f2"/>
<line x1="1528.7" y1="434.2" x2="1529.8" y2="429.2" stroke="#ac54f4"/>
<line x1="1529.8" y1="429.2" x2="1530.9" y2="553.6" stroke="#ae53f2"/>
<line x1="1530.9" y1="553.6" x2="1532.0" y2="522.6" stroke="#796afc"/>
<line x1="1532.0" y1="522.6" x2="1533.1" y2="481.6" stroke="#8764fc"/>
<line x1="1533.1" y1="481.6" x2="1534.2" y2="480.4" stroke="#995cfb"/>
<line x1="1534.2" y1="480.4" x2="1535.3" y2="481.6" stroke="#9a5bfb"/>
<line x1="1535.3" y1="481.6" x2="1536.4" y2="598.2" stroke="#995cfb"/>
<line x1="1536.4" y1="598.2" x2="1537.5" y2="565.5" stroke="#6573fd"/>
<line x1="1537.5" y1="565.5" x2="1538.3" y2="581.8" stroke="#746cfc"/>
<line x1="1538.3" y1="581.8" x2="1539.1" y2="603.6" stroke="#6c70fd"/>
<line x1="1539.1" y1="603.6" x2="1540.0" y2="586.5" stroke="#6374fd"/>
<line x1="1540.0" y1="586.5" x2="1540.9" y2="570.8" stroke="#6a71fd"/>
<line x1="1540.9" y1="570.8" x2="1541.8" y2="554.5" stroke="#716dfc"/>
<line x1="1541.8" y1="554.5" x2="1542.7" y2="572.0" stroke="#786afc"/>
<line x1="1542.7" y1="572.0" x2="1543.6" y2="580.0" stroke="#716efd"/>
<line x1="1543.6" y1="580.0" x2="1544.5" y2="602.0" stroke="#6d6ffd"/>
<line x1="1544.5" y1="602.0" x2="1545.5" y2="630.9" stroke="#6374fd"/>
<line x1="1545.5" y1="630.9" x2="1546.4" y2="649.7" stroke="#5679fe"/>
<line x1="1546.4" y1="649.7" x2="1547.3" y2="661.8" stroke="#4e7dfe"/>
<line x1="1547.3" y1="661.8" x2="1548.2" y2="655.3" stroke="#4980fe"/>
<line x1="1548.2" y1="655.3" x2="1549.1" y2="647.2" stroke="#4b7efe"/>
<line x1="1549.1" y1="647.2" x2="1550.0" y2="634.5" stroke="#4f7dfe"/>
<line x1="1550.0" y1="634.5" x2="1550.9" y2="644.8" stroke="#557afe"/>
<line x1="1550.9" y1="644.8" x2="1551.8" y2="650.3" stroke="#507cfe"/>
<line x1="1551.8" y1="650.3" x2="1552.7" y2="656.4" stroke="#4e7dfe"/>
<line x1="1552.7" y1="656.4" x2="1553.6" y2="638.7" stroke="#4b7efe"/>
<line x1="1553.6" y1="638.7" x2="1554.6" y2="622.9" stroke="#537bfe"/>
<line x1="1554.6" y1="622.9" x2="1555.5" y2="609.1" stroke="#5a78fe"/>
<line x1="1555.5" y1="609.1" x2="1556.4" y2="616.0" stroke="#6075fd"/>
<line x1="1556.4" y1="616.0" x2="1557.3" y2="629.1" stroke="#5d76fd"/>
<line x1="1557.3" y1="629.1" x2="1558.2" y2="634.5" stroke="#5779fe"/>
<line x1="1558.2" y1="634.5" x2="1559.1" y2="593.5" stroke="#557afe"/>
<line x1="1559.1" y1="593.5" x2="1560.0" y2="561.8" stroke="#6772fd"/>
<line x1="1560.0" y1="561.8" x2="1560.9" y2="567.6" stroke="#756cfc"/>
<line x1="1560.9" y1="567.6" x2="1561.8" y2="582.8" stroke="#736dfc"/>
<line x1="1561.8" y1="582.8" x2="1562.7" y2="589.1" stroke="#6c70fd"/>
<line x1="1562.7" y1="589.1" x2="1563.6" y2="576.6" stroke="#6971fd"/>
<line x1="1563.6" y1="576.6" x2="1564.6" y2="564.9" stroke="#6f6ffd"/>
<line x1="1564.6" y1="564.9" x2="1565.5" y2="560.0" stroke="#746cfc"/>
<line x1="1565.5" y1="560.0" x2="1566.7" y2="570.0" stroke="#766bfc"/>
<line x1="1566.7" y1="570.0" x2="1567.9" y2="590.9" stroke="#726dfc"/>
<line x1="1567.9" y1="590.9" x2="1569.1" y2="605.5" stroke="#6871fd"/>
<line x1="1569.1" y1="605.5" x2="1570.0" y2="589.0" stroke="#6274fd"/>
<line x1="1570.0" y1="589.0" x2="1570.9" y2="581.6" stroke="#6971fd"/>
<line x1="1570.9" y1="581.6" x2="1571.8" y2="561.8" stroke="#6c70fd"/>
<line x1="1571.8" y1="561.8" x2="1572.7" y2="563.0" stroke="#756cfc"/>
<line x1="1572.7" y1="563.0" x2="1573.6" y2="561.1" stroke="#756cfc"/>
<line x1="1573.6" y1="561.1" x2="1574.5" y2="552.7" stroke="#756bfc"/>
<line x1="1574.5" y1="552.7" x2="1575.5" y2="569.2" stroke="#796afc"/>
<line x1="1575.5" y1="569.2" x2="1576.4" y2="590.9" stroke="#726dfc"/>
<line x1="1576.4" y1="590.9" x2="1577.3" y2="619.1" stroke="#6871fd"/>
<line x1="1577.3" y1="619.1" x2="1578.2" y2="656.4" stroke="#5c77fd"/>
<line x1="1578.2" y1="656.4" x2="1579.1" y2="642.3" stroke="#4b7efe"/>
<line x1="1579.1" y1="642.3" x2="1580.0" y2="637.0" stroke="#517cfe"/>
<line x1="1580.0" y1="637.0" x2="1580.9" y2="627.3" stroke="#547bfe"/>
<line x1="1580.9" y1="627.3" x2="1581.8" y2="613.2" stroke="#5879fe"/>
<line x1="1581.8" y1="613.2" x2="1582.7" y2="594.0" stroke="#5e76fd"/>
<line x1="1582.7" y1="594.0" x2="1583.6" y2="578.2" stroke="#6772fd"/>
<line x1="1583.6" y1="578.2" x2="1584.5" y2="583.7" stroke="#6e6ffd"/>
<line x1="1584.5" y1="583.7" x2="1585.5" y2="594.2" stroke="#6b70fd"/>
<line x1="1585.5" y1="594.2" x2="1586.4" y2="603.6" stroke="#6772fd"/>
<line x1="1586.4" y1="603.6" x2="1587.3" y2="597.7" stroke="#6374fd"/>
<line x1="1587.3" y1="597.7" x2="1588.2" y2="591.0" stroke="#6573fd"/>
<line x1="1588.2" y1="591.0" x2="1589.1" y2="581.8" stroke="#6871fd"/>
<line x1="1589.1" y1="581.8" x2="1590.0" y2="591.8" stroke="#6c70fd"/>
<line x1="1590.0" y1="591.8" x2="1590.9" y2="600.2" stroke="#6872fd"/>
<line x1="1590.9" y1="600.2" x2="1591.8" y2="603.6" stroke="#6473fd"/>
<line x1="1591.8" y1="603.6" x2="1592.7" y2="594.5" stroke="#6374fd"/>
<line x1="1592.7" y1="594.5" x2="1593.6" y2="581.8" stroke="#6772fd"/>
<line x1="1593.6" y1="581.8" x2="1594.5" y2="568.5" stroke="#6c70fd"/>
<line x1="1594.5" y1="568.5" x2="1595.5" y2="567.3" stroke="#726dfc"/>
<line x1="1595.5" y1="567.3" x2="1596.4" y2="554.5" stroke="#736dfc"/>
<line x1="1596.4" y1="554.5" x2="1597.3" y2="510.3" stroke="#786afc"/>
<line x1="1597.3" y1="510.3" x2="1598.2" y2="470.7" stroke="#8c61fb"/>
<line x1="1598.2" y1="470.7" x2="1599.1" y2="502.4" stroke="#9e5afa"/>
<line x1="1599.1" y1="502.4" x2="1600.0" y2="531.2" stroke="#9060fb"/>
<line x1="1600.0" y1="531.2" x2="1600.9" y2="563.6" stroke="#8366fc"/>
<line x1="1600.9" y1="563.6" x2="1601.8" y2="519.8" stroke="#746cfc"/>
<line x1="1601.8" y1="519.8" x2="1602.7" y2="470.7" stroke="#8863fb"/>
<line x1="1602.7" y1="470.7" x2="1603.6" y2="520.2" stroke="#9e5afa"/>
<line x1="1603.6" y1="520.2" x2="1604.5" y2="576.4" stroke="#8863fb"/>
<line x1="1604.5" y1="576.4" x2="1605.4" y2="571.8" stroke="#6f6ffd"/>
<line x1="1605.4" y1="571.8" x2="1606.4" y2="569.9" stroke="#716efd"/>
<line x1="1606.4" y1="569.9" x2="1607.3" y2="570.9" stroke="#726dfc"/>
<line x1="1607.3" y1="570.9" x2="1608.2" y2="504.9" stroke="#716dfc"/>
<line x1="1608.2" y1="504.9" x2="1609.1" y2="446.6" stroke="#8f60fb"/>
<line x1="1609.1" y1="446.6" x2="1610.6" y2="372.4" stroke="#a855f9"/>
<line x1="1610.6" y1="372.4" x2="1611.7" y2="376.6" stroke="#c14eda"/>
<line x1="1611.7" y1="376.6" x2="1612.8" y2="372.4" stroke="#bf4fdc"/>
<line x1="1612.8" y1="372.4" x2="1613.9" y2="435.7" stroke="#c14eda"/>
<line x1="1613.9" y1="435.7" x2="1614.8" y2="453.0" stroke="#ac54f5"/>
<line x1="1614.8" y1="453.0" x2="1615.6" y2="468.5" stroke="#a656fa"/>
<line x1="1615.6" y1="468.5" x2="1616.4" y2="605.5" stroke="#9f59fa"/>
<line x1="1616.4" y1="605.5" x2="1617.3" y2="594.5" stroke="#6274fd"/>
<line x1="1617.3" y1="594.5" x2="1618.2" y2="586.2" stroke="#6772fd"/>
<line x1="1618.2" y1="586.2" x2="1619.1" y2="578.2" stroke="#6a70fd"/>
<line x1="1619.1" y1="578.2" x2="1620.0" y2="591.9" stroke="#6e6ffd"/>
<line x1="1620.0" y1="591.9" x2="1620.9" y2="594.9" stroke="#6872fd"/>
<line x1="1620.9" y1="594.9" x2="1621.8" y2="603.1" stroke="#6672fd"/>
<line x1="1621.8" y1="603.1" x2="1623.0" y2="553.5" stroke="#6374fd"/>
<line x1="1623.0" y1="553.5" x2="1624.2" y2="551.7" stroke="#796afc"/>
<line x1="1624.2" y1="551.7" x2="1625.4" y2="555.8" stroke="#7a6afc"/>
<line x1="1625.4" y1="555.8" x2="1626.2" y2="595.8" stroke="#786afc"/>
<line x1="1626.2" y1="595.8" x2="1627.0" y2="629.1" stroke="#6672fd"/>
<line x1="1627.0" y1="629.1" x2="1628.0" y2="634.8" stroke="#5779fe"/>
<line x1="1628.0" y1="634.8" x2="1629.1" y2="642.4" stroke="#557afe"/>
<line x1="1629.1" y1="642.4" x2="1630.1" y2="641.0" stroke="#517cfe"/>
<line x1="1630.1" y1="641.0" x2="1631.3" y2="651.6" stroke="#527bfe"/>
<line x1="1631.3" y1="651.6" x2="1632.4" y2="670.7" stroke="#4d7dfe"/>
<line x1="1632.4" y1="670.7" x2="1633.6" y2="685.9" stroke="#4581ff"/>
<line x1="1633.6" y1="685.9" x2="1634.8" y2="667.0" stroke="#3e84ff"/>
<line x1="1634.8" y1="667.0" x2="1636.0" y2="641.0" stroke="#4681fe"/>
<line x1="1636.0" y1="641.0" x2="1637.2" y2="661.3" stroke="#527bfe"/>
<line x1="1637.2" y1="661.3" x2="1638.4" y2="678.6" stroke="#497ffe"/>
<line x1="1638.4" y1="678.6" x2="1639.6" y2="690.6" stroke="#4183ff"/>
<line x1="1639.6" y1="690.6" x2="1640.8" y2="672.9" stroke="#3c85ff"/>
<line x1="1640.8" y1="672.9" x2="1641.9" y2="663.1" stroke="#4482ff"/>
<line x1="1641.9" y1="663.1" x2="1643.1" y2="652.8" stroke="#4880fe"/>
<line x1="1643.1" y1="652.8" x2="1644.3" y2="656.5" stroke="#4d7efe"/>
<line x1="1644.3" y1="656.5" x2="1645.4" y2="665.1" stroke="#4b7efe"/>
<line x1="1645.4" y1="665.1" x2="1646.6" y2="676.4" stroke="#4780fe"/>
<line x1="1646.6" y1="676.4" x2="1647.8" y2="686.3" stroke="#4282ff"/>
<line x1="1647.8" y1="686.3" x2="1649.0" y2="686.8" stroke="#3e84ff"/>
<line x1="1649.0" y1="686.8" x2="1650.2" y2="690.6" stroke="#3d84ff"/>
<line x1="1650.2" y1="690.6" x2="1651.4" y2="678.8" stroke="#3c85ff"/>
<line x1="1651.4" y1="678.8" x2="1652.6" y2="657.5" stroke="#4183ff"/>
<line x1="1652.6" y1="657.5" x2="1653.8" y2="650.6" stroke="#4a7ffe"/>
<line x1="1653.8" y1="650.6" x2="1654.9" y2="650.5" stroke="#4e7dfe"/>
<line x1="1654.9" y1="650.5" x2="1656.1" y2="641.0" stroke="#4e7dfe"/>
<line x1="1656.1" y1="641.0" x2="1657.3" y2="651.0" stroke="#527bfe"/>
<line x1="1657.3" y1="651.0" x2="1658.5" y2="662.2" stroke="#4d7dfe"/>
<line x1="1658.5" y1="662.2" x2="1659.7" y2="625.3" stroke="#4880fe"/>
<line x1="1659.7" y1="625.3" x2="1660.8" y2="593.7" stroke="#5978fe"/>
<line x1="1660.8" y1="593.7" x2="1662.0" y2="631.0" stroke="#6772fd"/>
<line x1="1662.0" y1="631.0" x2="1663.2" y2="662.2" stroke="#5679fe"/>
<line x1="1663.2" y1="662.2" x2="1664.4" y2="673.0" stroke="#4880fe"/>
<line x1="1664.4" y1="673.0" x2="1665.6" y2="674.0" stroke="#4482ff"/>
<line x1="1665.6" y1="674.0" x2="1666.8" y2="641.3" stroke="#4382ff"/>
<line x1="1666.8" y1="641.3" x2="1667.9" y2="617.3" stroke="#527bfe"/>
<line x1="1667.9" y1="617.3" x2="1669.1" y2="626.7" stroke="#5c77fd"/>
<line x1="1669.1" y1="626.7" x2="1670.3" y2="633.9" stroke="#5879fe"/>
<line x1="1670.3" y1="633.9" x2="1671.4" y2="598.6" stroke="#557afe"/>
<line x1="1671.4" y1="598.6" x2="1672.6" y2="560.6" stroke="#6573fd"/>
<line x1="1672.6" y1="560.6" x2="1673.8" y2="563.4" stroke="#766bfc"/>
<line x1="1673.8" y1="563.4" x2="1675.0" y2="572.4" stroke="#746cfc"/>
<line x1="1675.0" y1="572.4" x2="1676.2" y2="611.2" stroke="#706efd"/>
<line x1="1676.2" y1="611.2" x2="1677.4" y2="652.8" stroke="#5f75fd"/>
<line x1="1677.4" y1="652.8" x2="1678.6" y2="659.5" stroke="#4d7efe"/>
<line x1="1678.6" y1="659.5" x2="1679.7" y2="674.0" stroke="#4a7ffe"/>
<line x1="1679.7" y1="674.0" x2="1680.9" y2="654.2" stroke="#4382ff"/>
<line x1="1680.9" y1="654.2" x2="1682.1" y2="641.0" stroke="#4c7efe"/>
<line x1="1682.1" y1="641.0" x2="1683.3" y2="654.8" stroke="#527bfe"/>
<line x1="1683.3" y1="654.8" x2="1684.5" y2="674.0" stroke="#4c7efe"/>
<line x1="1684.5" y1="674.0" x2="1685.7" y2="662.1" stroke="#4382ff"/>
<line x1="1685.7" y1="662.1" x2="1686.8" y2="648.0" stroke="#4880fe"/>
<line x1="1686.8" y1="648.0" x2="1688.0" y2="658.3" stroke="#4f7dfe"/>
<line x1="1688.0" y1="658.3" x2="1689.2" y2="662.1" stroke="#4a7ffe"/>
<line x1="1689.2" y1="662.1" x2="1690.4" y2="674.0" stroke="#4880fe"/>
<line x1="1690.4" y1="674.0" x2="1691.6" y2="658.0" stroke="#4382ff"/>
<line x1="1691.6" y1="658.0" x2="1692.7" y2="652.8" stroke="#4a7ffe"/>
<line x1="1692.7" y1="652.8" x2="1693.9" y2="636.7" stroke="#4d7efe"/>
<line x1="1693.9" y1="636.7" x2="1695.1" y2="624.4" stroke="#547bfe"/>
<line x1="1695.1" y1="624.4" x2="1696.3" y2="626.4" stroke="#5978fe"/>
<line x1="1696.3" y1="626.4" x2="1697.5" y2="620.9" stroke="#5878fe"/>
<line x1="1697.5" y1="620.9" x2="1698.7" y2="624.4" stroke="#5b77fe"/>
<line x1="1698.7" y1="624.4" x2="1699.8" y2="625.9" stroke="#5978fe"/>
<line x1="1699.8" y1="625.9" x2="1701.0" y2="631.5" stroke="#5978fe"/>
</g>
<text x="166" y="88.09" text-anchor="end" font-family="DejaVu Sans" font-size="26" fill="#434b55">3</text>
<text x="166" y="211.36" text-anchor="end" font-family="DejaVu Sans" font-size="26" fill="#434b55">2</text>
<text x="166" y="334.63" text-anchor="end" font-family="DejaVu Sans" font-size="26" fill="#434b55">1</text>
<text x="166" y="457.90" text-anchor="end" font-family="DejaVu Sans" font-size="26" fill="#434b55">0</text>
<text x="166" y="581.17" text-anchor="end" font-family="DejaVu Sans" font-size="26" fill="#434b55">-1</text>
<text x="166" y="704.44" text-anchor="end" font-family="DejaVu Sans" font-size="26" fill="#434b55">-2</text>
<text x="166" y="827.71" text-anchor="end" font-family="DejaVu Sans" font-size="26" fill="#434b55">-3</text>
<text x="363.00" y="889.5" text-anchor="middle" font-family="DejaVu Sans" font-size="25.1" fill="#434b55">Oct 2022</text>
<text x="551.89" y="889.5" text-anchor="middle" font-family="DejaVu Sans" font-size="25.1" fill="#434b55">Apr 2023</text>
<text x="741.82" y="889.5" text-anchor="middle" font-family="DejaVu Sans" font-size="25.1" fill="#434b55">Oct 2023</text>
<text x="931.75" y="889.5" text-anchor="middle" font-family="DejaVu Sans" font-size="25.1" fill="#434b55">Apr 2024</text>
<text x="1121.68" y="889.5" text-anchor="middle" font-family="DejaVu Sans" font-size="25.1" fill="#434b55">Oct 2024</text>
<text x="1310.58" y="889.5" text-anchor="middle" font-family="DejaVu Sans" font-size="25.1" fill="#434b55">Apr 2025</text>
<text x="1500.51" y="889.5" text-anchor="middle" font-family="DejaVu Sans" font-size="25.1" fill="#434b55">Oct 2025</text>
<text x="1689.40" y="889.5" text-anchor="middle" font-family="DejaVu Sans" font-size="25.1" fill="#434b55">Apr 2026</text>
<text transform="translate(90.9,446) rotate(-90)" text-anchor="middle" font-family="DejaVu Sans" font-weight="bold" font-size="30.7" fill="#2f3640">Price &amp; Sentiment Momentum (Z-Score)</text>
<rect x="571" y="955" width="28" height="28" fill="#9d9dc4"/>
<text x="619.9" y="979" font-family="DejaVu Sans" font-size="27.1" fill="#1f2329">Panic</text>
<rect x="714" y="955" width="28" height="28" fill="#b0b0d2"/>
<text x="763.9" y="979" font-family="DejaVu Sans" font-size="27.1" fill="#1f2329">Fear</text>
<rect x="845" y="955" width="28" height="28" fill="#cdd2d8"/>
<text x="893.9" y="979" font-family="DejaVu Sans" font-size="27.1" fill="#1f2329">Neutral</text>
<rect x="1018" y="955" width="28" height="28" fill="#ffc2b8"/>
<text x="1066.9" y="979" font-family="DejaVu Sans" font-size="27.1" fill="#1f2329">Greed</text>
<rect x="1173" y="955" width="28" height="28" fill="#ffa6a6"/>
<text x="1222.9" y="979" font-family="DejaVu Sans" font-size="27.1" fill="#1f2329">Euphoria</text>
<text x="182.2" y="1066.4" font-family="DejaVu Sans" font-size="27.9" fill="#6b7580">Regime Signal: Panic as of 2026-04-12</text>
</svg>
</body></html>
